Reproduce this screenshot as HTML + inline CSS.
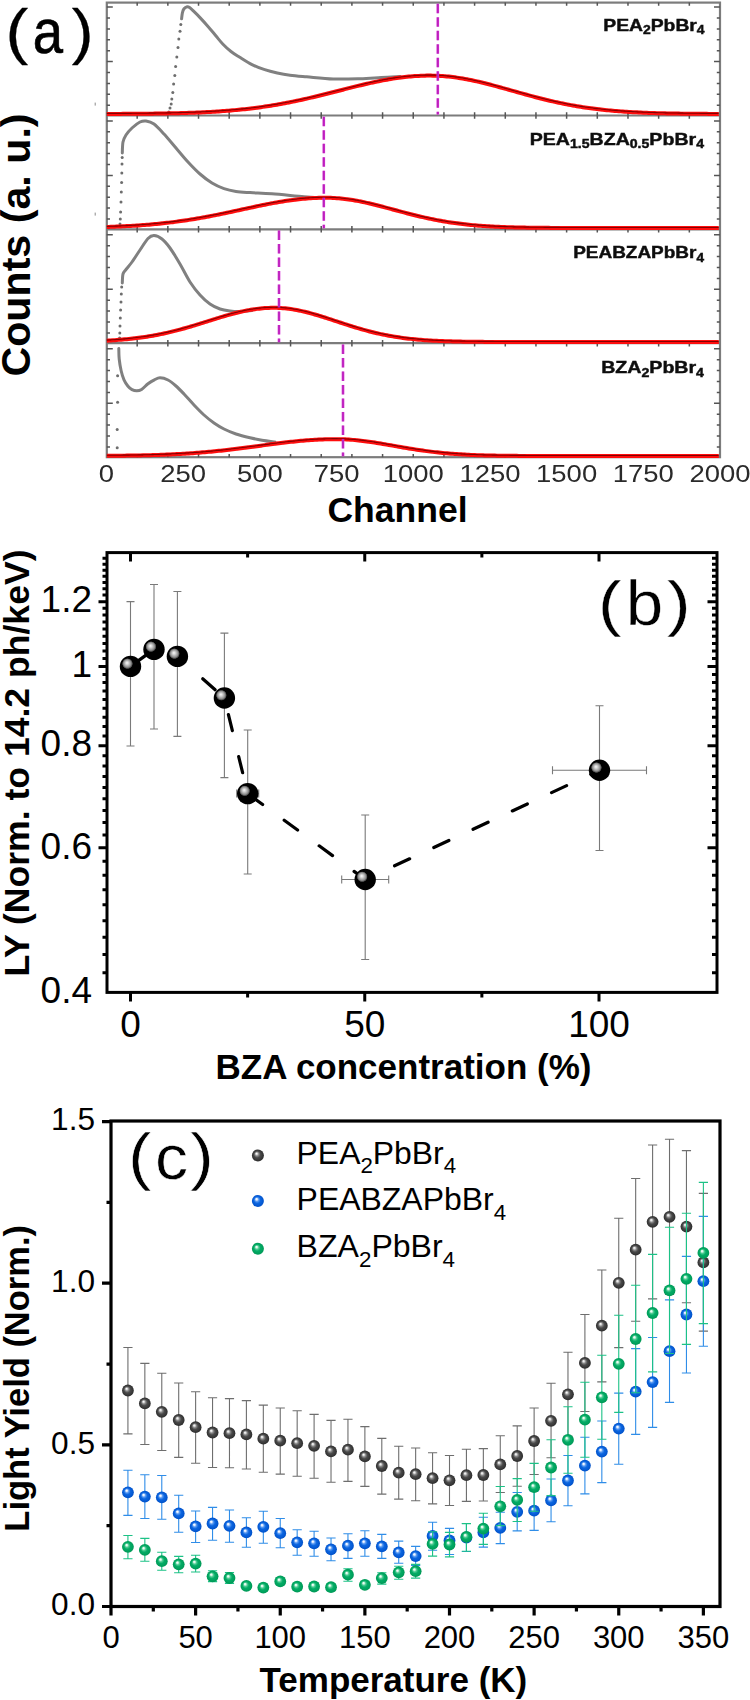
<!DOCTYPE html>
<html><head><meta charset="utf-8"><title>Figure</title>
<style>html,body{margin:0;padding:0;background:#fff;}body{width:750px;height:1700px;overflow:hidden;}svg{display:block;}</style>
</head><body>
<svg width="750" height="1700" viewBox="0 0 750 1700" font-family="'Liberation Sans', sans-serif">
<rect x="0" y="0" width="750" height="1700" fill="#fff"/>
<defs>
<radialGradient id="gH" cx="0.5" cy="0.5" r="0.5" fx="0.45" fy="0.42">
 <stop offset="0" stop-color="#fafafa"/><stop offset="0.3" stop-color="#d0d0d0"/><stop offset="0.7" stop-color="#8a8a8a"/><stop offset="0.9" stop-color="#3a3a3a"/><stop offset="1" stop-color="#000" stop-opacity="0"/></radialGradient>
<radialGradient id="gG" cx="0.5" cy="0.5" r="0.5" fx="0.37" fy="0.33">
 <stop offset="0" stop-color="#ffffff"/><stop offset="0.14" stop-color="#e0e0e0"/><stop offset="0.32" stop-color="#8a8a8a"/><stop offset="0.55" stop-color="#4a4a4a"/><stop offset="0.85" stop-color="#363636"/><stop offset="1" stop-color="#2c2c2c"/></radialGradient>
<radialGradient id="gB" cx="0.5" cy="0.5" r="0.5" fx="0.37" fy="0.33">
 <stop offset="0" stop-color="#ffffff"/><stop offset="0.14" stop-color="#e4eeff"/><stop offset="0.32" stop-color="#5a9af0"/><stop offset="0.55" stop-color="#0c66e0"/><stop offset="0.85" stop-color="#0458d2"/><stop offset="1" stop-color="#0050c6"/></radialGradient>
<radialGradient id="gN" cx="0.5" cy="0.5" r="0.5" fx="0.37" fy="0.33">
 <stop offset="0" stop-color="#ffffff"/><stop offset="0.14" stop-color="#dcf8ea"/><stop offset="0.32" stop-color="#52cc94"/><stop offset="0.55" stop-color="#04ac66"/><stop offset="0.85" stop-color="#00a05c"/><stop offset="1" stop-color="#009654"/></radialGradient>
<filter id="blurA" x="-2%" y="-2%" width="104%" height="104%"><feGaussianBlur stdDeviation="0.55"/></filter>
</defs>
<g id="panel-a" filter="url(#blurA)">
<path d="M181.60,18.80 C181.73,17.80 182.00,14.47 182.40,12.80 C182.80,11.13 183.20,9.80 184.00,8.80 C184.80,7.80 186.27,7.00 187.20,6.80 C188.13,6.60 188.53,6.87 189.60,7.60 C190.67,8.33 191.87,9.53 193.60,11.20 C195.33,12.87 197.60,15.07 200.00,17.60 C202.40,20.13 205.33,23.33 208.00,26.40 C210.67,29.47 213.50,33.03 216.00,36.00 C218.50,38.97 220.50,41.62 223.00,44.20 C225.50,46.78 228.28,49.37 231.00,51.50 C233.72,53.63 235.80,54.82 239.30,57.00 C242.80,59.18 247.77,62.48 252.00,64.60 C256.23,66.72 260.48,68.30 264.70,69.70 C268.92,71.10 273.08,72.08 277.30,73.00 C281.52,73.92 285.10,74.57 290.00,75.20 C294.90,75.83 299.48,76.17 306.70,76.80 C313.92,77.43 324.42,78.68 333.30,79.00 C342.18,79.32 352.00,78.95 360.00,78.70 C368.00,78.45 374.63,77.87 381.30,77.50 C387.97,77.13 396.88,76.67 400.00,76.50" fill="none" stroke="#808080" stroke-width="3.0" stroke-linecap="round" stroke-linejoin="round"/>
<path d="M122.30,153.00 C122.42,151.17 122.38,145.00 123.00,142.00 C123.62,139.00 124.50,137.33 126.00,135.00 C127.50,132.67 129.67,130.17 132.00,128.00 C134.33,125.83 137.67,123.17 140.00,122.00 C142.33,120.83 143.67,120.67 146.00,121.00 C148.33,121.33 151.00,121.83 154.00,124.00 C157.00,126.17 160.33,130.00 164.00,134.00 C167.67,138.00 172.00,143.33 176.00,148.00 C180.00,152.67 184.00,157.67 188.00,162.00 C192.00,166.33 196.00,170.50 200.00,174.00 C204.00,177.50 208.00,180.57 212.00,183.00 C216.00,185.43 220.00,187.20 224.00,188.60 C228.00,190.00 231.67,190.73 236.00,191.40 C240.33,192.07 244.00,192.20 250.00,192.60 C256.00,193.00 263.00,193.10 272.00,193.80 C281.00,194.50 295.67,196.10 304.00,196.80 C312.33,197.50 319.00,197.80 322.00,198.00" fill="none" stroke="#808080" stroke-width="3.0" stroke-linecap="round" stroke-linejoin="round"/>
<path d="M122.30,283.00 C122.42,281.50 122.38,276.25 123.00,274.00 C123.62,271.75 124.50,271.50 126.00,269.50 C127.50,267.50 129.67,265.25 132.00,262.00 C134.33,258.75 137.33,253.92 140.00,250.00 C142.67,246.08 145.67,240.92 148.00,238.50 C150.33,236.08 151.67,235.42 154.00,235.50 C156.33,235.58 159.33,236.92 162.00,239.00 C164.67,241.08 167.00,243.83 170.00,248.00 C173.00,252.17 176.67,258.33 180.00,264.00 C183.33,269.67 186.67,276.83 190.00,282.00 C193.33,287.17 196.67,291.33 200.00,295.00 C203.33,298.67 206.67,301.67 210.00,304.00 C213.33,306.33 216.67,307.83 220.00,309.00 C223.33,310.17 226.67,310.58 230.00,311.00 C233.33,311.42 236.33,311.58 240.00,311.50 C243.67,311.42 250.00,310.67 252.00,310.50" fill="none" stroke="#808080" stroke-width="3.0" stroke-linecap="round" stroke-linejoin="round"/>
<path d="M118.80,348.50 C118.87,350.25 118.80,355.25 119.20,359.00 C119.60,362.75 120.40,367.53 121.20,371.00 C122.00,374.47 122.87,377.27 124.00,379.80 C125.13,382.33 126.67,384.57 128.00,386.20 C129.33,387.83 130.53,388.83 132.00,389.60 C133.47,390.37 135.20,390.83 136.80,390.80 C138.40,390.77 139.73,390.57 141.60,389.40 C143.47,388.23 145.87,385.40 148.00,383.80 C150.13,382.20 152.40,380.80 154.40,379.80 C156.40,378.80 157.73,377.77 160.00,377.80 C162.27,377.83 165.33,378.63 168.00,380.00 C170.67,381.37 173.33,383.67 176.00,386.00 C178.67,388.33 181.00,390.83 184.00,394.00 C187.00,397.17 190.67,401.50 194.00,405.00 C197.33,408.50 200.67,412.00 204.00,415.00 C207.33,418.00 210.67,420.67 214.00,423.00 C217.33,425.33 220.33,427.17 224.00,429.00 C227.67,430.83 231.67,432.53 236.00,434.00 C240.33,435.47 245.67,436.77 250.00,437.80 C254.33,438.83 257.83,439.50 262.00,440.20 C266.17,440.90 272.83,441.70 275.00,442.00" fill="none" stroke="#808080" stroke-width="3.0" stroke-linecap="round" stroke-linejoin="round"/>
<circle cx="168.8" cy="112" r="1.5" fill="#6e6e6e"/>
<circle cx="170" cy="108" r="1.5" fill="#6e6e6e"/>
<circle cx="171.2" cy="104" r="1.5" fill="#6e6e6e"/>
<circle cx="171.8" cy="99" r="1.5" fill="#6e6e6e"/>
<circle cx="172.8" cy="92.6" r="1.5" fill="#6e6e6e"/>
<circle cx="173.6" cy="84" r="1.5" fill="#6e6e6e"/>
<circle cx="174.8" cy="75.6" r="1.5" fill="#6e6e6e"/>
<circle cx="175.6" cy="66.4" r="1.5" fill="#6e6e6e"/>
<circle cx="176.8" cy="57" r="1.5" fill="#6e6e6e"/>
<circle cx="178" cy="47.6" r="1.5" fill="#6e6e6e"/>
<circle cx="178.8" cy="39" r="1.5" fill="#6e6e6e"/>
<circle cx="180" cy="31.2" r="1.5" fill="#6e6e6e"/>
<circle cx="180.8" cy="24.4" r="1.5" fill="#6e6e6e"/>
<circle cx="120" cy="224" r="1.5" fill="#6e6e6e"/>
<circle cx="120.3" cy="219" r="1.5" fill="#6e6e6e"/>
<circle cx="120.6" cy="212" r="1.5" fill="#6e6e6e"/>
<circle cx="121" cy="202" r="1.5" fill="#6e6e6e"/>
<circle cx="121.3" cy="192" r="1.5" fill="#6e6e6e"/>
<circle cx="121.6" cy="182.4" r="1.5" fill="#6e6e6e"/>
<circle cx="121.8" cy="173" r="1.5" fill="#6e6e6e"/>
<circle cx="122" cy="164" r="1.5" fill="#6e6e6e"/>
<circle cx="122.2" cy="157.5" r="1.5" fill="#6e6e6e"/>
<circle cx="119.6" cy="338" r="1.5" fill="#6e6e6e"/>
<circle cx="119.8" cy="333" r="1.5" fill="#6e6e6e"/>
<circle cx="120" cy="326" r="1.5" fill="#6e6e6e"/>
<circle cx="120.3" cy="318" r="1.5" fill="#6e6e6e"/>
<circle cx="120.6" cy="310" r="1.5" fill="#6e6e6e"/>
<circle cx="121" cy="302" r="1.5" fill="#6e6e6e"/>
<circle cx="121.3" cy="294" r="1.5" fill="#6e6e6e"/>
<circle cx="121.7" cy="287" r="1.5" fill="#6e6e6e"/>
<circle cx="117.6" cy="375.8" r="1.5" fill="#6e6e6e"/>
<circle cx="117.6" cy="402.2" r="1.5" fill="#6e6e6e"/>
<circle cx="117.2" cy="429.4" r="1.5" fill="#6e6e6e"/>
<circle cx="117.2" cy="447.8" r="1.5" fill="#6e6e6e"/>
<rect x="106.8" y="2.6" width="613.2" height="454.59999999999997" fill="none" stroke="#7c7c7c" stroke-width="2.2"/>
<line x1="106.8" y1="115.5" x2="720.0" y2="115.5" stroke="#7c7c7c" stroke-width="2.2"/>
<line x1="106.8" y1="229.3" x2="720.0" y2="229.3" stroke="#7c7c7c" stroke-width="2.2"/>
<line x1="106.8" y1="343.2" x2="720.0" y2="343.2" stroke="#7c7c7c" stroke-width="2.2"/>
<path d="M137.18,2.60v3.2 M167.85,2.60v3.2 M198.53,2.60v3.2 M229.20,2.60v3.2 M259.88,2.60v3.2 M290.55,2.60v3.2 M321.23,2.60v3.2 M351.90,2.60v3.2 M382.58,2.60v3.2 M413.25,2.60v3.2 M443.93,2.60v3.2 M474.60,2.60v3.2 M505.28,2.60v3.2 M535.95,2.60v3.2 M566.62,2.60v3.2 M597.30,2.60v3.2 M627.98,2.60v3.2 M658.65,2.60v3.2 M689.33,2.60v3.2 M137.18,115.50v-3.2 M137.18,115.50v3.2 M167.85,115.50v-3.2 M167.85,115.50v3.2 M198.53,115.50v-3.2 M198.53,115.50v3.2 M229.20,115.50v-3.2 M229.20,115.50v3.2 M259.88,115.50v-3.2 M259.88,115.50v3.2 M290.55,115.50v-3.2 M290.55,115.50v3.2 M321.23,115.50v-3.2 M321.23,115.50v3.2 M351.90,115.50v-3.2 M351.90,115.50v3.2 M382.58,115.50v-3.2 M382.58,115.50v3.2 M413.25,115.50v-3.2 M413.25,115.50v3.2 M443.93,115.50v-3.2 M443.93,115.50v3.2 M474.60,115.50v-3.2 M474.60,115.50v3.2 M505.28,115.50v-3.2 M505.28,115.50v3.2 M535.95,115.50v-3.2 M535.95,115.50v3.2 M566.62,115.50v-3.2 M566.62,115.50v3.2 M597.30,115.50v-3.2 M597.30,115.50v3.2 M627.98,115.50v-3.2 M627.98,115.50v3.2 M658.65,115.50v-3.2 M658.65,115.50v3.2 M689.33,115.50v-3.2 M689.33,115.50v3.2 M137.18,229.30v-3.2 M137.18,229.30v3.2 M167.85,229.30v-3.2 M167.85,229.30v3.2 M198.53,229.30v-3.2 M198.53,229.30v3.2 M229.20,229.30v-3.2 M229.20,229.30v3.2 M259.88,229.30v-3.2 M259.88,229.30v3.2 M290.55,229.30v-3.2 M290.55,229.30v3.2 M321.23,229.30v-3.2 M321.23,229.30v3.2 M351.90,229.30v-3.2 M351.90,229.30v3.2 M382.58,229.30v-3.2 M382.58,229.30v3.2 M413.25,229.30v-3.2 M413.25,229.30v3.2 M443.93,229.30v-3.2 M443.93,229.30v3.2 M474.60,229.30v-3.2 M474.60,229.30v3.2 M505.28,229.30v-3.2 M505.28,229.30v3.2 M535.95,229.30v-3.2 M535.95,229.30v3.2 M566.62,229.30v-3.2 M566.62,229.30v3.2 M597.30,229.30v-3.2 M597.30,229.30v3.2 M627.98,229.30v-3.2 M627.98,229.30v3.2 M658.65,229.30v-3.2 M658.65,229.30v3.2 M689.33,229.30v-3.2 M689.33,229.30v3.2 M137.18,343.20v-3.2 M137.18,343.20v3.2 M167.85,343.20v-3.2 M167.85,343.20v3.2 M198.53,343.20v-3.2 M198.53,343.20v3.2 M229.20,343.20v-3.2 M229.20,343.20v3.2 M259.88,343.20v-3.2 M259.88,343.20v3.2 M290.55,343.20v-3.2 M290.55,343.20v3.2 M321.23,343.20v-3.2 M321.23,343.20v3.2 M351.90,343.20v-3.2 M351.90,343.20v3.2 M382.58,343.20v-3.2 M382.58,343.20v3.2 M413.25,343.20v-3.2 M413.25,343.20v3.2 M443.93,343.20v-3.2 M443.93,343.20v3.2 M474.60,343.20v-3.2 M474.60,343.20v3.2 M505.28,343.20v-3.2 M505.28,343.20v3.2 M535.95,343.20v-3.2 M535.95,343.20v3.2 M566.62,343.20v-3.2 M566.62,343.20v3.2 M597.30,343.20v-3.2 M597.30,343.20v3.2 M627.98,343.20v-3.2 M627.98,343.20v3.2 M658.65,343.20v-3.2 M658.65,343.20v3.2 M689.33,343.20v-3.2 M689.33,343.20v3.2 M137.18,457.20v-3.2 M167.85,457.20v-3.2 M198.53,457.20v-3.2 M229.20,457.20v-3.2 M259.88,457.20v-3.2 M290.55,457.20v-3.2 M321.23,457.20v-3.2 M351.90,457.20v-3.2 M382.58,457.20v-3.2 M413.25,457.20v-3.2 M443.93,457.20v-3.2 M474.60,457.20v-3.2 M505.28,457.20v-3.2 M535.95,457.20v-3.2 M566.62,457.20v-3.2 M597.30,457.20v-3.2 M627.98,457.20v-3.2 M658.65,457.20v-3.2 M689.33,457.20v-3.2 M106.80,105.20h3.2 M720.00,105.20h-3.2 M106.80,94.30h3.2 M720.00,94.30h-3.2 M106.80,83.40h3.2 M720.00,83.40h-3.2 M106.80,72.50h3.2 M720.00,72.50h-3.2 M106.80,61.60h6 M720.00,61.60h-6 M106.80,50.70h3.2 M720.00,50.70h-3.2 M106.80,39.80h3.2 M720.00,39.80h-3.2 M106.80,28.90h3.2 M720.00,28.90h-3.2 M106.80,18.00h3.2 M720.00,18.00h-3.2 M106.80,7.10h6 M720.00,7.10h-6 M106.80,219.00h3.2 M720.00,219.00h-3.2 M106.80,208.10h3.2 M720.00,208.10h-3.2 M106.80,197.20h3.2 M720.00,197.20h-3.2 M106.80,186.30h3.2 M720.00,186.30h-3.2 M106.80,175.40h6 M720.00,175.40h-6 M106.80,164.50h3.2 M720.00,164.50h-3.2 M106.80,153.60h3.2 M720.00,153.60h-3.2 M106.80,142.70h3.2 M720.00,142.70h-3.2 M106.80,131.80h3.2 M720.00,131.80h-3.2 M106.80,120.90h6 M720.00,120.90h-6 M106.80,332.90h3.2 M720.00,332.90h-3.2 M106.80,322.00h3.2 M720.00,322.00h-3.2 M106.80,311.10h3.2 M720.00,311.10h-3.2 M106.80,300.20h3.2 M720.00,300.20h-3.2 M106.80,289.30h6 M720.00,289.30h-6 M106.80,278.40h3.2 M720.00,278.40h-3.2 M106.80,267.50h3.2 M720.00,267.50h-3.2 M106.80,256.60h3.2 M720.00,256.60h-3.2 M106.80,245.70h3.2 M720.00,245.70h-3.2 M106.80,234.80h6 M720.00,234.80h-6 M106.80,446.90h3.2 M720.00,446.90h-3.2 M106.80,436.00h3.2 M720.00,436.00h-3.2 M106.80,425.10h3.2 M720.00,425.10h-3.2 M106.80,414.20h3.2 M720.00,414.20h-3.2 M106.80,403.30h6 M720.00,403.30h-6 M106.80,392.40h3.2 M720.00,392.40h-3.2 M106.80,381.50h3.2 M720.00,381.50h-3.2 M106.80,370.60h3.2 M720.00,370.60h-3.2 M106.80,359.70h3.2 M720.00,359.70h-3.2 M106.80,348.80h6 M720.00,348.80h-6" stroke="#555" stroke-width="1.5" fill="none"/>
<path d="M106.8,113.93 L108.8,113.92 L110.8,113.92 L112.8,113.91 L114.8,113.90 L116.8,113.90 L118.8,113.89 L120.8,113.88 L122.8,113.87 L124.8,113.86 L126.8,113.85 L128.8,113.84 L130.8,113.83 L132.8,113.81 L134.8,113.80 L136.8,113.78 L138.8,113.77 L140.8,113.75 L142.8,113.73 L144.8,113.72 L146.8,113.70 L148.8,113.67 L150.8,113.65 L152.8,113.63 L154.8,113.60 L156.8,113.57 L158.8,113.54 L160.8,113.51 L162.8,113.48 L164.8,113.45 L166.8,113.41 L168.8,113.37 L170.8,113.33 L172.8,113.29 L174.8,113.24 L176.8,113.19 L178.8,113.14 L180.8,113.09 L182.8,113.03 L184.8,112.98 L186.8,112.91 L188.8,112.85 L190.8,112.78 L192.8,112.71 L194.8,112.63 L196.8,112.55 L198.8,112.47 L200.8,112.38 L202.8,112.29 L204.8,112.19 L206.8,112.09 L208.8,111.99 L210.8,111.88 L212.8,111.76 L214.8,111.64 L216.8,111.52 L218.8,111.39 L220.8,111.25 L222.8,111.11 L224.8,110.96 L226.8,110.81 L228.8,110.65 L230.8,110.49 L232.8,110.31 L234.8,110.13 L236.8,109.95 L238.8,109.76 L240.8,109.56 L242.8,109.35 L244.8,109.14 L246.8,108.92 L248.8,108.69 L250.8,108.45 L252.8,108.21 L254.8,107.96 L256.8,107.70 L258.8,107.43 L260.8,107.15 L262.8,106.87 L264.8,106.58 L266.8,106.28 L268.8,105.97 L270.8,105.66 L272.8,105.33 L274.8,105.00 L276.8,104.66 L278.8,104.31 L280.8,103.95 L282.8,103.58 L284.8,103.21 L286.8,102.83 L288.8,102.44 L290.8,102.04 L292.8,101.64 L294.8,101.22 L296.8,100.80 L298.8,100.38 L300.8,99.94 L302.8,99.50 L304.8,99.05 L306.8,98.60 L308.8,98.14 L310.8,97.67 L312.8,97.20 L314.8,96.72 L316.8,96.24 L318.8,95.75 L320.8,95.26 L322.8,94.76 L324.8,94.27 L326.8,93.76 L328.8,93.26 L330.8,92.75 L332.8,92.24 L334.8,91.73 L336.8,91.22 L338.8,90.71 L340.8,90.20 L342.8,89.69 L344.8,89.18 L346.8,88.67 L348.8,88.16 L350.8,87.66 L352.8,87.16 L354.8,86.66 L356.8,86.16 L358.8,85.68 L360.8,85.19 L362.8,84.72 L364.8,84.25 L366.8,83.78 L368.8,83.33 L370.8,82.88 L372.8,82.44 L374.8,82.01 L376.8,81.59 L378.8,81.18 L380.8,80.78 L382.8,80.39 L384.8,80.02 L386.8,79.66 L388.8,79.31 L390.8,78.97 L392.8,78.65 L394.8,78.34 L396.8,78.04 L398.8,77.76 L400.8,77.50 L402.8,77.25 L404.8,77.02 L406.8,76.81 L408.8,76.61 L410.8,76.43 L412.8,76.26 L414.8,76.12 L416.8,75.99 L418.8,75.88 L420.8,75.79 L422.8,75.71 L424.8,75.66 L426.8,75.62 L428.8,75.60 L430.8,75.60 L432.8,75.63 L434.8,75.67 L436.8,75.74 L438.8,75.83 L440.8,75.94 L442.8,76.07 L444.8,76.23 L446.8,76.41 L448.8,76.61 L450.8,76.83 L452.8,77.07 L454.8,77.33 L456.8,77.61 L458.8,77.91 L460.8,78.22 L462.8,78.56 L464.8,78.91 L466.8,79.28 L468.8,79.67 L470.8,80.07 L472.8,80.49 L474.8,80.92 L476.8,81.36 L478.8,81.82 L480.8,82.29 L482.8,82.78 L484.8,83.27 L486.8,83.77 L488.8,84.28 L490.8,84.80 L492.8,85.33 L494.8,85.87 L496.8,86.41 L498.8,86.96 L500.8,87.51 L502.8,88.06 L504.8,88.62 L506.8,89.19 L508.8,89.75 L510.8,90.31 L512.8,90.88 L514.8,91.44 L516.8,92.01 L518.8,92.57 L520.8,93.13 L522.8,93.69 L524.8,94.24 L526.8,94.79 L528.8,95.34 L530.8,95.88 L532.8,96.42 L534.8,96.95 L536.8,97.47 L538.8,97.99 L540.8,98.50 L542.8,99.00 L544.8,99.50 L546.8,99.99 L548.8,100.47 L550.8,100.94 L552.8,101.40 L554.8,101.85 L556.8,102.29 L558.8,102.72 L560.8,103.15 L562.8,103.56 L564.8,103.97 L566.8,104.36 L568.8,104.74 L570.8,105.12 L572.8,105.48 L574.8,105.84 L576.8,106.18 L578.8,106.51 L580.8,106.84 L582.8,107.15 L584.8,107.45 L586.8,107.75 L588.8,108.03 L590.8,108.31 L592.8,108.57 L594.8,108.83 L596.8,109.08 L598.8,109.31 L600.8,109.54 L602.8,109.76 L604.8,109.97 L606.8,110.18 L608.8,110.37 L610.8,110.56 L612.8,110.74 L614.8,110.91 L616.8,111.08 L618.8,111.23 L620.8,111.38 L622.8,111.53 L624.8,111.67 L626.8,111.80 L628.8,111.92 L630.8,112.04 L632.8,112.15 L634.8,112.26 L636.8,112.36 L638.8,112.46 L640.8,112.55 L642.8,112.64 L644.8,112.72 L646.8,112.80 L648.8,112.88 L650.8,112.95 L652.8,113.01 L654.8,113.08 L656.8,113.14 L658.8,113.19 L660.8,113.25 L662.8,113.30 L664.8,113.34 L666.8,113.39 L668.8,113.43 L670.8,113.47 L672.8,113.50 L674.8,113.54 L676.8,113.57 L678.8,113.60 L680.8,113.63 L682.8,113.66 L684.8,113.68 L686.8,113.70 L688.8,113.73 L690.8,113.75 L692.8,113.76 L694.8,113.78 L696.8,113.80 L698.8,113.81 L700.8,113.83 L702.8,113.84 L704.8,113.85 L706.8,113.86 L708.8,113.88 L710.8,113.89 L712.8,113.89 L714.8,113.90 L716.8,113.91 L718.8,113.92" fill="none" stroke="#ff0a0a" stroke-width="4.0" stroke-linejoin="round"/>
<path d="M106.8,113.93 L108.8,113.92 L110.8,113.92 L112.8,113.91 L114.8,113.90 L116.8,113.90 L118.8,113.89 L120.8,113.88 L122.8,113.87 L124.8,113.86 L126.8,113.85 L128.8,113.84 L130.8,113.83 L132.8,113.81 L134.8,113.80 L136.8,113.78 L138.8,113.77 L140.8,113.75 L142.8,113.73 L144.8,113.72 L146.8,113.70 L148.8,113.67 L150.8,113.65 L152.8,113.63 L154.8,113.60 L156.8,113.57 L158.8,113.54 L160.8,113.51 L162.8,113.48 L164.8,113.45 L166.8,113.41 L168.8,113.37 L170.8,113.33 L172.8,113.29 L174.8,113.24 L176.8,113.19 L178.8,113.14 L180.8,113.09 L182.8,113.03 L184.8,112.98 L186.8,112.91 L188.8,112.85 L190.8,112.78 L192.8,112.71 L194.8,112.63 L196.8,112.55 L198.8,112.47 L200.8,112.38 L202.8,112.29 L204.8,112.19 L206.8,112.09 L208.8,111.99 L210.8,111.88 L212.8,111.76 L214.8,111.64 L216.8,111.52 L218.8,111.39 L220.8,111.25 L222.8,111.11 L224.8,110.96 L226.8,110.81 L228.8,110.65 L230.8,110.49 L232.8,110.31 L234.8,110.13 L236.8,109.95 L238.8,109.76 L240.8,109.56 L242.8,109.35 L244.8,109.14 L246.8,108.92 L248.8,108.69 L250.8,108.45 L252.8,108.21 L254.8,107.96 L256.8,107.70 L258.8,107.43 L260.8,107.15 L262.8,106.87 L264.8,106.58 L266.8,106.28 L268.8,105.97 L270.8,105.66 L272.8,105.33 L274.8,105.00 L276.8,104.66 L278.8,104.31 L280.8,103.95 L282.8,103.58 L284.8,103.21 L286.8,102.83 L288.8,102.44 L290.8,102.04 L292.8,101.64 L294.8,101.22 L296.8,100.80 L298.8,100.38 L300.8,99.94 L302.8,99.50 L304.8,99.05 L306.8,98.60 L308.8,98.14 L310.8,97.67 L312.8,97.20 L314.8,96.72 L316.8,96.24 L318.8,95.75 L320.8,95.26 L322.8,94.76 L324.8,94.27 L326.8,93.76 L328.8,93.26 L330.8,92.75 L332.8,92.24 L334.8,91.73 L336.8,91.22 L338.8,90.71 L340.8,90.20 L342.8,89.69 L344.8,89.18 L346.8,88.67 L348.8,88.16 L350.8,87.66 L352.8,87.16 L354.8,86.66 L356.8,86.16 L358.8,85.68 L360.8,85.19 L362.8,84.72 L364.8,84.25 L366.8,83.78 L368.8,83.33 L370.8,82.88 L372.8,82.44 L374.8,82.01 L376.8,81.59 L378.8,81.18 L380.8,80.78 L382.8,80.39 L384.8,80.02 L386.8,79.66 L388.8,79.31 L390.8,78.97 L392.8,78.65 L394.8,78.34 L396.8,78.04 L398.8,77.76 L400.8,77.50 L402.8,77.25 L404.8,77.02 L406.8,76.81 L408.8,76.61 L410.8,76.43 L412.8,76.26 L414.8,76.12 L416.8,75.99 L418.8,75.88 L420.8,75.79 L422.8,75.71 L424.8,75.66 L426.8,75.62 L428.8,75.60 L430.8,75.60 L432.8,75.63 L434.8,75.67 L436.8,75.74 L438.8,75.83 L440.8,75.94 L442.8,76.07 L444.8,76.23 L446.8,76.41 L448.8,76.61 L450.8,76.83 L452.8,77.07 L454.8,77.33 L456.8,77.61 L458.8,77.91 L460.8,78.22 L462.8,78.56 L464.8,78.91 L466.8,79.28 L468.8,79.67 L470.8,80.07 L472.8,80.49 L474.8,80.92 L476.8,81.36 L478.8,81.82 L480.8,82.29 L482.8,82.78 L484.8,83.27 L486.8,83.77 L488.8,84.28 L490.8,84.80 L492.8,85.33 L494.8,85.87 L496.8,86.41 L498.8,86.96 L500.8,87.51 L502.8,88.06 L504.8,88.62 L506.8,89.19 L508.8,89.75 L510.8,90.31 L512.8,90.88 L514.8,91.44 L516.8,92.01 L518.8,92.57 L520.8,93.13 L522.8,93.69 L524.8,94.24 L526.8,94.79 L528.8,95.34 L530.8,95.88 L532.8,96.42 L534.8,96.95 L536.8,97.47 L538.8,97.99 L540.8,98.50 L542.8,99.00 L544.8,99.50 L546.8,99.99 L548.8,100.47 L550.8,100.94 L552.8,101.40 L554.8,101.85 L556.8,102.29 L558.8,102.72 L560.8,103.15 L562.8,103.56 L564.8,103.97 L566.8,104.36 L568.8,104.74 L570.8,105.12 L572.8,105.48 L574.8,105.84 L576.8,106.18 L578.8,106.51 L580.8,106.84 L582.8,107.15 L584.8,107.45 L586.8,107.75 L588.8,108.03 L590.8,108.31 L592.8,108.57 L594.8,108.83 L596.8,109.08 L598.8,109.31 L600.8,109.54 L602.8,109.76 L604.8,109.97 L606.8,110.18 L608.8,110.37 L610.8,110.56 L612.8,110.74 L614.8,110.91 L616.8,111.08 L618.8,111.23 L620.8,111.38 L622.8,111.53 L624.8,111.67 L626.8,111.80 L628.8,111.92 L630.8,112.04 L632.8,112.15 L634.8,112.26 L636.8,112.36 L638.8,112.46 L640.8,112.55 L642.8,112.64 L644.8,112.72 L646.8,112.80 L648.8,112.88 L650.8,112.95 L652.8,113.01 L654.8,113.08 L656.8,113.14 L658.8,113.19 L660.8,113.25 L662.8,113.30 L664.8,113.34 L666.8,113.39 L668.8,113.43 L670.8,113.47 L672.8,113.50 L674.8,113.54 L676.8,113.57 L678.8,113.60 L680.8,113.63 L682.8,113.66 L684.8,113.68 L686.8,113.70 L688.8,113.73 L690.8,113.75 L692.8,113.76 L694.8,113.78 L696.8,113.80 L698.8,113.81 L700.8,113.83 L702.8,113.84 L704.8,113.85 L706.8,113.86 L708.8,113.88 L710.8,113.89 L712.8,113.89 L714.8,113.90 L716.8,113.91 L718.8,113.92" fill="none" stroke="#300000" stroke-opacity="0.6" stroke-width="1.1" transform="translate(0,-0.5)"/>
<path d="M106.8,226.95 L108.8,226.89 L110.8,226.82 L112.8,226.74 L114.8,226.67 L116.8,226.59 L118.8,226.50 L120.8,226.41 L122.8,226.32 L124.8,226.22 L126.8,226.12 L128.8,226.01 L130.8,225.90 L132.8,225.78 L134.8,225.66 L136.8,225.53 L138.8,225.39 L140.8,225.25 L142.8,225.11 L144.8,224.96 L146.8,224.80 L148.8,224.64 L150.8,224.47 L152.8,224.29 L154.8,224.11 L156.8,223.91 L158.8,223.72 L160.8,223.51 L162.8,223.30 L164.8,223.08 L166.8,222.86 L168.8,222.62 L170.8,222.38 L172.8,222.14 L174.8,221.88 L176.8,221.62 L178.8,221.35 L180.8,221.07 L182.8,220.78 L184.8,220.49 L186.8,220.19 L188.8,219.88 L190.8,219.57 L192.8,219.24 L194.8,218.91 L196.8,218.57 L198.8,218.23 L200.8,217.88 L202.8,217.52 L204.8,217.16 L206.8,216.78 L208.8,216.41 L210.8,216.02 L212.8,215.63 L214.8,215.24 L216.8,214.84 L218.8,214.43 L220.8,214.03 L222.8,213.61 L224.8,213.19 L226.8,212.77 L228.8,212.35 L230.8,211.92 L232.8,211.49 L234.8,211.06 L236.8,210.63 L238.8,210.19 L240.8,209.76 L242.8,209.32 L244.8,208.89 L246.8,208.46 L248.8,208.02 L250.8,207.59 L252.8,207.17 L254.8,206.74 L256.8,206.32 L258.8,205.90 L260.8,205.49 L262.8,205.08 L264.8,204.68 L266.8,204.29 L268.8,203.90 L270.8,203.52 L272.8,203.14 L274.8,202.78 L276.8,202.42 L278.8,202.08 L280.8,201.74 L282.8,201.41 L284.8,201.10 L286.8,200.80 L288.8,200.51 L290.8,200.23 L292.8,199.96 L294.8,199.71 L296.8,199.47 L298.8,199.25 L300.8,199.04 L302.8,198.84 L304.8,198.66 L306.8,198.50 L308.8,198.35 L310.8,198.22 L312.8,198.10 L314.8,198.00 L316.8,197.92 L318.8,197.85 L320.8,197.80 L322.8,197.77 L324.8,197.75 L326.8,197.75 L328.8,197.78 L330.8,197.84 L332.8,197.92 L334.8,198.02 L336.8,198.15 L338.8,198.31 L340.8,198.49 L342.8,198.70 L344.8,198.93 L346.8,199.18 L348.8,199.46 L350.8,199.76 L352.8,200.07 L354.8,200.41 L356.8,200.77 L358.8,201.15 L360.8,201.55 L362.8,201.96 L364.8,202.39 L366.8,202.83 L368.8,203.29 L370.8,203.76 L372.8,204.24 L374.8,204.73 L376.8,205.23 L378.8,205.74 L380.8,206.26 L382.8,206.79 L384.8,207.32 L386.8,207.85 L388.8,208.39 L390.8,208.93 L392.8,209.47 L394.8,210.01 L396.8,210.55 L398.8,211.09 L400.8,211.63 L402.8,212.16 L404.8,212.69 L406.8,213.21 L408.8,213.73 L410.8,214.25 L412.8,214.75 L414.8,215.25 L416.8,215.74 L418.8,216.22 L420.8,216.69 L422.8,217.16 L424.8,217.61 L426.8,218.05 L428.8,218.49 L430.8,218.91 L432.8,219.32 L434.8,219.72 L436.8,220.10 L438.8,220.48 L440.8,220.84 L442.8,221.20 L444.8,221.54 L446.8,221.87 L448.8,222.18 L450.8,222.49 L452.8,222.78 L454.8,223.07 L456.8,223.34 L458.8,223.60 L460.8,223.85 L462.8,224.09 L464.8,224.32 L466.8,224.53 L468.8,224.74 L470.8,224.94 L472.8,225.13 L474.8,225.31 L476.8,225.48 L478.8,225.64 L480.8,225.79 L482.8,225.94 L484.8,226.07 L486.8,226.20 L488.8,226.33 L490.8,226.44 L492.8,226.55 L494.8,226.65 L496.8,226.75 L498.8,226.84 L500.8,226.92 L502.8,227.00 L504.8,227.08 L506.8,227.15 L508.8,227.21 L510.8,227.27 L512.8,227.33 L514.8,227.38 L516.8,227.43 L518.8,227.48 L520.8,227.52 L522.8,227.56 L524.8,227.60 L526.8,227.63 L528.8,227.66 L530.8,227.69 L532.8,227.72 L534.8,227.74 L536.8,227.76 L538.8,227.78 L540.8,227.80 L542.8,227.82 L544.8,227.84 L546.8,227.85 L548.8,227.87 L550.8,227.88 L552.8,227.89 L554.8,227.90 L556.8,227.91 L558.8,227.92 L560.8,227.93 L562.8,227.93 L564.8,227.94 L566.8,227.95 L568.8,227.95 L570.8,227.96 L572.8,227.96 L574.8,227.96 L576.8,227.97 L578.8,227.97 L580.8,227.97 L582.8,227.98 L584.8,227.98 L586.8,227.98 L588.8,227.98 L590.8,227.99 L592.8,227.99 L594.8,227.99 L596.8,227.99 L598.8,227.99 L600.8,227.99 L602.8,227.99 L604.8,227.99 L606.8,227.99 L608.8,228.00 L610.8,228.00 L612.8,228.00 L614.8,228.00 L616.8,228.00 L618.8,228.00 L620.8,228.00 L622.8,228.00 L624.8,228.00 L626.8,228.00 L628.8,228.00 L630.8,228.00 L632.8,228.00 L634.8,228.00 L636.8,228.00 L638.8,228.00 L640.8,228.00 L642.8,228.00 L644.8,228.00 L646.8,228.00 L648.8,228.00 L650.8,228.00 L652.8,228.00 L654.8,228.00 L656.8,228.00 L658.8,228.00 L660.8,228.00 L662.8,228.00 L664.8,228.00 L666.8,228.00 L668.8,228.00 L670.8,228.00 L672.8,228.00 L674.8,228.00 L676.8,228.00 L678.8,228.00 L680.8,228.00 L682.8,228.00 L684.8,228.00 L686.8,228.00 L688.8,228.00 L690.8,228.00 L692.8,228.00 L694.8,228.00 L696.8,228.00 L698.8,228.00 L700.8,228.00 L702.8,228.00 L704.8,228.00 L706.8,228.00 L708.8,228.00 L710.8,228.00 L712.8,228.00 L714.8,228.00 L716.8,228.00 L718.8,228.00" fill="none" stroke="#ff0a0a" stroke-width="4.0" stroke-linejoin="round"/>
<path d="M106.8,226.95 L108.8,226.89 L110.8,226.82 L112.8,226.74 L114.8,226.67 L116.8,226.59 L118.8,226.50 L120.8,226.41 L122.8,226.32 L124.8,226.22 L126.8,226.12 L128.8,226.01 L130.8,225.90 L132.8,225.78 L134.8,225.66 L136.8,225.53 L138.8,225.39 L140.8,225.25 L142.8,225.11 L144.8,224.96 L146.8,224.80 L148.8,224.64 L150.8,224.47 L152.8,224.29 L154.8,224.11 L156.8,223.91 L158.8,223.72 L160.8,223.51 L162.8,223.30 L164.8,223.08 L166.8,222.86 L168.8,222.62 L170.8,222.38 L172.8,222.14 L174.8,221.88 L176.8,221.62 L178.8,221.35 L180.8,221.07 L182.8,220.78 L184.8,220.49 L186.8,220.19 L188.8,219.88 L190.8,219.57 L192.8,219.24 L194.8,218.91 L196.8,218.57 L198.8,218.23 L200.8,217.88 L202.8,217.52 L204.8,217.16 L206.8,216.78 L208.8,216.41 L210.8,216.02 L212.8,215.63 L214.8,215.24 L216.8,214.84 L218.8,214.43 L220.8,214.03 L222.8,213.61 L224.8,213.19 L226.8,212.77 L228.8,212.35 L230.8,211.92 L232.8,211.49 L234.8,211.06 L236.8,210.63 L238.8,210.19 L240.8,209.76 L242.8,209.32 L244.8,208.89 L246.8,208.46 L248.8,208.02 L250.8,207.59 L252.8,207.17 L254.8,206.74 L256.8,206.32 L258.8,205.90 L260.8,205.49 L262.8,205.08 L264.8,204.68 L266.8,204.29 L268.8,203.90 L270.8,203.52 L272.8,203.14 L274.8,202.78 L276.8,202.42 L278.8,202.08 L280.8,201.74 L282.8,201.41 L284.8,201.10 L286.8,200.80 L288.8,200.51 L290.8,200.23 L292.8,199.96 L294.8,199.71 L296.8,199.47 L298.8,199.25 L300.8,199.04 L302.8,198.84 L304.8,198.66 L306.8,198.50 L308.8,198.35 L310.8,198.22 L312.8,198.10 L314.8,198.00 L316.8,197.92 L318.8,197.85 L320.8,197.80 L322.8,197.77 L324.8,197.75 L326.8,197.75 L328.8,197.78 L330.8,197.84 L332.8,197.92 L334.8,198.02 L336.8,198.15 L338.8,198.31 L340.8,198.49 L342.8,198.70 L344.8,198.93 L346.8,199.18 L348.8,199.46 L350.8,199.76 L352.8,200.07 L354.8,200.41 L356.8,200.77 L358.8,201.15 L360.8,201.55 L362.8,201.96 L364.8,202.39 L366.8,202.83 L368.8,203.29 L370.8,203.76 L372.8,204.24 L374.8,204.73 L376.8,205.23 L378.8,205.74 L380.8,206.26 L382.8,206.79 L384.8,207.32 L386.8,207.85 L388.8,208.39 L390.8,208.93 L392.8,209.47 L394.8,210.01 L396.8,210.55 L398.8,211.09 L400.8,211.63 L402.8,212.16 L404.8,212.69 L406.8,213.21 L408.8,213.73 L410.8,214.25 L412.8,214.75 L414.8,215.25 L416.8,215.74 L418.8,216.22 L420.8,216.69 L422.8,217.16 L424.8,217.61 L426.8,218.05 L428.8,218.49 L430.8,218.91 L432.8,219.32 L434.8,219.72 L436.8,220.10 L438.8,220.48 L440.8,220.84 L442.8,221.20 L444.8,221.54 L446.8,221.87 L448.8,222.18 L450.8,222.49 L452.8,222.78 L454.8,223.07 L456.8,223.34 L458.8,223.60 L460.8,223.85 L462.8,224.09 L464.8,224.32 L466.8,224.53 L468.8,224.74 L470.8,224.94 L472.8,225.13 L474.8,225.31 L476.8,225.48 L478.8,225.64 L480.8,225.79 L482.8,225.94 L484.8,226.07 L486.8,226.20 L488.8,226.33 L490.8,226.44 L492.8,226.55 L494.8,226.65 L496.8,226.75 L498.8,226.84 L500.8,226.92 L502.8,227.00 L504.8,227.08 L506.8,227.15 L508.8,227.21 L510.8,227.27 L512.8,227.33 L514.8,227.38 L516.8,227.43 L518.8,227.48 L520.8,227.52 L522.8,227.56 L524.8,227.60 L526.8,227.63 L528.8,227.66 L530.8,227.69 L532.8,227.72 L534.8,227.74 L536.8,227.76 L538.8,227.78 L540.8,227.80 L542.8,227.82 L544.8,227.84 L546.8,227.85 L548.8,227.87 L550.8,227.88 L552.8,227.89 L554.8,227.90 L556.8,227.91 L558.8,227.92 L560.8,227.93 L562.8,227.93 L564.8,227.94 L566.8,227.95 L568.8,227.95 L570.8,227.96 L572.8,227.96 L574.8,227.96 L576.8,227.97 L578.8,227.97 L580.8,227.97 L582.8,227.98 L584.8,227.98 L586.8,227.98 L588.8,227.98 L590.8,227.99 L592.8,227.99 L594.8,227.99 L596.8,227.99 L598.8,227.99 L600.8,227.99 L602.8,227.99 L604.8,227.99 L606.8,227.99 L608.8,228.00 L610.8,228.00 L612.8,228.00 L614.8,228.00 L616.8,228.00 L618.8,228.00 L620.8,228.00 L622.8,228.00 L624.8,228.00 L626.8,228.00 L628.8,228.00 L630.8,228.00 L632.8,228.00 L634.8,228.00 L636.8,228.00 L638.8,228.00 L640.8,228.00 L642.8,228.00 L644.8,228.00 L646.8,228.00 L648.8,228.00 L650.8,228.00 L652.8,228.00 L654.8,228.00 L656.8,228.00 L658.8,228.00 L660.8,228.00 L662.8,228.00 L664.8,228.00 L666.8,228.00 L668.8,228.00 L670.8,228.00 L672.8,228.00 L674.8,228.00 L676.8,228.00 L678.8,228.00 L680.8,228.00 L682.8,228.00 L684.8,228.00 L686.8,228.00 L688.8,228.00 L690.8,228.00 L692.8,228.00 L694.8,228.00 L696.8,228.00 L698.8,228.00 L700.8,228.00 L702.8,228.00 L704.8,228.00 L706.8,228.00 L708.8,228.00 L710.8,228.00 L712.8,228.00 L714.8,228.00 L716.8,228.00 L718.8,228.00" fill="none" stroke="#300000" stroke-opacity="0.6" stroke-width="1.1" transform="translate(0,-0.5)"/>
<path d="M106.8,340.63 L108.8,340.52 L110.8,340.40 L112.8,340.28 L114.8,340.14 L116.8,340.00 L118.8,339.85 L120.8,339.69 L122.8,339.53 L124.8,339.35 L126.8,339.16 L128.8,338.96 L130.8,338.76 L132.8,338.54 L134.8,338.31 L136.8,338.06 L138.8,337.81 L140.8,337.54 L142.8,337.26 L144.8,336.97 L146.8,336.66 L148.8,336.34 L150.8,336.01 L152.8,335.66 L154.8,335.30 L156.8,334.92 L158.8,334.53 L160.8,334.13 L162.8,333.71 L164.8,333.28 L166.8,332.84 L168.8,332.38 L170.8,331.91 L172.8,331.42 L174.8,330.92 L176.8,330.41 L178.8,329.88 L180.8,329.35 L182.8,328.80 L184.8,328.24 L186.8,327.67 L188.8,327.09 L190.8,326.50 L192.8,325.90 L194.8,325.30 L196.8,324.69 L198.8,324.07 L200.8,323.45 L202.8,322.82 L204.8,322.19 L206.8,321.56 L208.8,320.93 L210.8,320.30 L212.8,319.67 L214.8,319.05 L216.8,318.43 L218.8,317.81 L220.8,317.20 L222.8,316.60 L224.8,316.01 L226.8,315.43 L228.8,314.86 L230.8,314.31 L232.8,313.77 L234.8,313.25 L236.8,312.74 L238.8,312.25 L240.8,311.78 L242.8,311.34 L244.8,310.91 L246.8,310.51 L248.8,310.13 L250.8,309.78 L252.8,309.46 L254.8,309.16 L256.8,308.89 L258.8,308.65 L260.8,308.43 L262.8,308.25 L264.8,308.10 L266.8,307.98 L268.8,307.89 L270.8,307.83 L272.8,307.80 L274.8,307.81 L276.8,307.85 L278.8,307.92 L280.8,308.03 L282.8,308.17 L284.8,308.35 L286.8,308.56 L288.8,308.80 L290.8,309.07 L292.8,309.38 L294.8,309.71 L296.8,310.08 L298.8,310.47 L300.8,310.89 L302.8,311.33 L304.8,311.80 L306.8,312.29 L308.8,312.80 L310.8,313.34 L312.8,313.89 L314.8,314.46 L316.8,315.04 L318.8,315.64 L320.8,316.26 L322.8,316.88 L324.8,317.52 L326.8,318.16 L328.8,318.81 L330.8,319.46 L332.8,320.12 L334.8,320.78 L336.8,321.44 L338.8,322.10 L340.8,322.76 L342.8,323.42 L344.8,324.07 L346.8,324.72 L348.8,325.36 L350.8,325.99 L352.8,326.62 L354.8,327.23 L356.8,327.84 L358.8,328.43 L360.8,329.01 L362.8,329.58 L364.8,330.14 L366.8,330.68 L368.8,331.21 L370.8,331.73 L372.8,332.23 L374.8,332.72 L376.8,333.19 L378.8,333.64 L380.8,334.08 L382.8,334.51 L384.8,334.91 L386.8,335.31 L388.8,335.69 L390.8,336.05 L392.8,336.40 L394.8,336.73 L396.8,337.05 L398.8,337.35 L400.8,337.64 L402.8,337.91 L404.8,338.18 L406.8,338.42 L408.8,338.66 L410.8,338.88 L412.8,339.10 L414.8,339.30 L416.8,339.48 L418.8,339.66 L420.8,339.83 L422.8,339.99 L424.8,340.14 L426.8,340.27 L428.8,340.40 L430.8,340.53 L432.8,340.64 L434.8,340.75 L436.8,340.85 L438.8,340.94 L440.8,341.02 L442.8,341.10 L444.8,341.18 L446.8,341.25 L448.8,341.31 L450.8,341.37 L452.8,341.43 L454.8,341.48 L456.8,341.52 L458.8,341.56 L460.8,341.60 L462.8,341.64 L464.8,341.67 L466.8,341.70 L468.8,341.73 L470.8,341.76 L472.8,341.78 L474.8,341.80 L476.8,341.82 L478.8,341.84 L480.8,341.85 L482.8,341.87 L484.8,341.88 L486.8,341.89 L488.8,341.91 L490.8,341.92 L492.8,341.92 L494.8,341.93 L496.8,341.94 L498.8,341.95 L500.8,341.95 L502.8,341.96 L504.8,341.96 L506.8,341.97 L508.8,341.97 L510.8,341.97 L512.8,341.98 L514.8,341.98 L516.8,341.98 L518.8,341.98 L520.8,341.99 L522.8,341.99 L524.8,341.99 L526.8,341.99 L528.8,341.99 L530.8,341.99 L532.8,341.99 L534.8,341.99 L536.8,341.99 L538.8,342.00 L540.8,342.00 L542.8,342.00 L544.8,342.00 L546.8,342.00 L548.8,342.00 L550.8,342.00 L552.8,342.00 L554.8,342.00 L556.8,342.00 L558.8,342.00 L560.8,342.00 L562.8,342.00 L564.8,342.00 L566.8,342.00 L568.8,342.00 L570.8,342.00 L572.8,342.00 L574.8,342.00 L576.8,342.00 L578.8,342.00 L580.8,342.00 L582.8,342.00 L584.8,342.00 L586.8,342.00 L588.8,342.00 L590.8,342.00 L592.8,342.00 L594.8,342.00 L596.8,342.00 L598.8,342.00 L600.8,342.00 L602.8,342.00 L604.8,342.00 L606.8,342.00 L608.8,342.00 L610.8,342.00 L612.8,342.00 L614.8,342.00 L616.8,342.00 L618.8,342.00 L620.8,342.00 L622.8,342.00 L624.8,342.00 L626.8,342.00 L628.8,342.00 L630.8,342.00 L632.8,342.00 L634.8,342.00 L636.8,342.00 L638.8,342.00 L640.8,342.00 L642.8,342.00 L644.8,342.00 L646.8,342.00 L648.8,342.00 L650.8,342.00 L652.8,342.00 L654.8,342.00 L656.8,342.00 L658.8,342.00 L660.8,342.00 L662.8,342.00 L664.8,342.00 L666.8,342.00 L668.8,342.00 L670.8,342.00 L672.8,342.00 L674.8,342.00 L676.8,342.00 L678.8,342.00 L680.8,342.00 L682.8,342.00 L684.8,342.00 L686.8,342.00 L688.8,342.00 L690.8,342.00 L692.8,342.00 L694.8,342.00 L696.8,342.00 L698.8,342.00 L700.8,342.00 L702.8,342.00 L704.8,342.00 L706.8,342.00 L708.8,342.00 L710.8,342.00 L712.8,342.00 L714.8,342.00 L716.8,342.00 L718.8,342.00" fill="none" stroke="#ff0a0a" stroke-width="4.0" stroke-linejoin="round"/>
<path d="M106.8,340.63 L108.8,340.52 L110.8,340.40 L112.8,340.28 L114.8,340.14 L116.8,340.00 L118.8,339.85 L120.8,339.69 L122.8,339.53 L124.8,339.35 L126.8,339.16 L128.8,338.96 L130.8,338.76 L132.8,338.54 L134.8,338.31 L136.8,338.06 L138.8,337.81 L140.8,337.54 L142.8,337.26 L144.8,336.97 L146.8,336.66 L148.8,336.34 L150.8,336.01 L152.8,335.66 L154.8,335.30 L156.8,334.92 L158.8,334.53 L160.8,334.13 L162.8,333.71 L164.8,333.28 L166.8,332.84 L168.8,332.38 L170.8,331.91 L172.8,331.42 L174.8,330.92 L176.8,330.41 L178.8,329.88 L180.8,329.35 L182.8,328.80 L184.8,328.24 L186.8,327.67 L188.8,327.09 L190.8,326.50 L192.8,325.90 L194.8,325.30 L196.8,324.69 L198.8,324.07 L200.8,323.45 L202.8,322.82 L204.8,322.19 L206.8,321.56 L208.8,320.93 L210.8,320.30 L212.8,319.67 L214.8,319.05 L216.8,318.43 L218.8,317.81 L220.8,317.20 L222.8,316.60 L224.8,316.01 L226.8,315.43 L228.8,314.86 L230.8,314.31 L232.8,313.77 L234.8,313.25 L236.8,312.74 L238.8,312.25 L240.8,311.78 L242.8,311.34 L244.8,310.91 L246.8,310.51 L248.8,310.13 L250.8,309.78 L252.8,309.46 L254.8,309.16 L256.8,308.89 L258.8,308.65 L260.8,308.43 L262.8,308.25 L264.8,308.10 L266.8,307.98 L268.8,307.89 L270.8,307.83 L272.8,307.80 L274.8,307.81 L276.8,307.85 L278.8,307.92 L280.8,308.03 L282.8,308.17 L284.8,308.35 L286.8,308.56 L288.8,308.80 L290.8,309.07 L292.8,309.38 L294.8,309.71 L296.8,310.08 L298.8,310.47 L300.8,310.89 L302.8,311.33 L304.8,311.80 L306.8,312.29 L308.8,312.80 L310.8,313.34 L312.8,313.89 L314.8,314.46 L316.8,315.04 L318.8,315.64 L320.8,316.26 L322.8,316.88 L324.8,317.52 L326.8,318.16 L328.8,318.81 L330.8,319.46 L332.8,320.12 L334.8,320.78 L336.8,321.44 L338.8,322.10 L340.8,322.76 L342.8,323.42 L344.8,324.07 L346.8,324.72 L348.8,325.36 L350.8,325.99 L352.8,326.62 L354.8,327.23 L356.8,327.84 L358.8,328.43 L360.8,329.01 L362.8,329.58 L364.8,330.14 L366.8,330.68 L368.8,331.21 L370.8,331.73 L372.8,332.23 L374.8,332.72 L376.8,333.19 L378.8,333.64 L380.8,334.08 L382.8,334.51 L384.8,334.91 L386.8,335.31 L388.8,335.69 L390.8,336.05 L392.8,336.40 L394.8,336.73 L396.8,337.05 L398.8,337.35 L400.8,337.64 L402.8,337.91 L404.8,338.18 L406.8,338.42 L408.8,338.66 L410.8,338.88 L412.8,339.10 L414.8,339.30 L416.8,339.48 L418.8,339.66 L420.8,339.83 L422.8,339.99 L424.8,340.14 L426.8,340.27 L428.8,340.40 L430.8,340.53 L432.8,340.64 L434.8,340.75 L436.8,340.85 L438.8,340.94 L440.8,341.02 L442.8,341.10 L444.8,341.18 L446.8,341.25 L448.8,341.31 L450.8,341.37 L452.8,341.43 L454.8,341.48 L456.8,341.52 L458.8,341.56 L460.8,341.60 L462.8,341.64 L464.8,341.67 L466.8,341.70 L468.8,341.73 L470.8,341.76 L472.8,341.78 L474.8,341.80 L476.8,341.82 L478.8,341.84 L480.8,341.85 L482.8,341.87 L484.8,341.88 L486.8,341.89 L488.8,341.91 L490.8,341.92 L492.8,341.92 L494.8,341.93 L496.8,341.94 L498.8,341.95 L500.8,341.95 L502.8,341.96 L504.8,341.96 L506.8,341.97 L508.8,341.97 L510.8,341.97 L512.8,341.98 L514.8,341.98 L516.8,341.98 L518.8,341.98 L520.8,341.99 L522.8,341.99 L524.8,341.99 L526.8,341.99 L528.8,341.99 L530.8,341.99 L532.8,341.99 L534.8,341.99 L536.8,341.99 L538.8,342.00 L540.8,342.00 L542.8,342.00 L544.8,342.00 L546.8,342.00 L548.8,342.00 L550.8,342.00 L552.8,342.00 L554.8,342.00 L556.8,342.00 L558.8,342.00 L560.8,342.00 L562.8,342.00 L564.8,342.00 L566.8,342.00 L568.8,342.00 L570.8,342.00 L572.8,342.00 L574.8,342.00 L576.8,342.00 L578.8,342.00 L580.8,342.00 L582.8,342.00 L584.8,342.00 L586.8,342.00 L588.8,342.00 L590.8,342.00 L592.8,342.00 L594.8,342.00 L596.8,342.00 L598.8,342.00 L600.8,342.00 L602.8,342.00 L604.8,342.00 L606.8,342.00 L608.8,342.00 L610.8,342.00 L612.8,342.00 L614.8,342.00 L616.8,342.00 L618.8,342.00 L620.8,342.00 L622.8,342.00 L624.8,342.00 L626.8,342.00 L628.8,342.00 L630.8,342.00 L632.8,342.00 L634.8,342.00 L636.8,342.00 L638.8,342.00 L640.8,342.00 L642.8,342.00 L644.8,342.00 L646.8,342.00 L648.8,342.00 L650.8,342.00 L652.8,342.00 L654.8,342.00 L656.8,342.00 L658.8,342.00 L660.8,342.00 L662.8,342.00 L664.8,342.00 L666.8,342.00 L668.8,342.00 L670.8,342.00 L672.8,342.00 L674.8,342.00 L676.8,342.00 L678.8,342.00 L680.8,342.00 L682.8,342.00 L684.8,342.00 L686.8,342.00 L688.8,342.00 L690.8,342.00 L692.8,342.00 L694.8,342.00 L696.8,342.00 L698.8,342.00 L700.8,342.00 L702.8,342.00 L704.8,342.00 L706.8,342.00 L708.8,342.00 L710.8,342.00 L712.8,342.00 L714.8,342.00 L716.8,342.00 L718.8,342.00" fill="none" stroke="#300000" stroke-opacity="0.6" stroke-width="1.1" transform="translate(0,-0.5)"/>
<path d="M106.8,455.82 L108.8,455.81 L110.8,455.79 L112.8,455.77 L114.8,455.76 L116.8,455.74 L118.8,455.72 L120.8,455.69 L122.8,455.67 L124.8,455.65 L126.8,455.62 L128.8,455.59 L130.8,455.56 L132.8,455.53 L134.8,455.49 L136.8,455.46 L138.8,455.42 L140.8,455.38 L142.8,455.33 L144.8,455.29 L146.8,455.24 L148.8,455.19 L150.8,455.13 L152.8,455.08 L154.8,455.02 L156.8,454.95 L158.8,454.89 L160.8,454.82 L162.8,454.74 L164.8,454.66 L166.8,454.58 L168.8,454.50 L170.8,454.41 L172.8,454.32 L174.8,454.22 L176.8,454.12 L178.8,454.01 L180.8,453.90 L182.8,453.79 L184.8,453.67 L186.8,453.54 L188.8,453.41 L190.8,453.28 L192.8,453.14 L194.8,452.99 L196.8,452.84 L198.8,452.69 L200.8,452.53 L202.8,452.36 L204.8,452.19 L206.8,452.02 L208.8,451.84 L210.8,451.65 L212.8,451.46 L214.8,451.26 L216.8,451.06 L218.8,450.86 L220.8,450.64 L222.8,450.43 L224.8,450.21 L226.8,449.98 L228.8,449.75 L230.8,449.52 L232.8,449.28 L234.8,449.04 L236.8,448.79 L238.8,448.54 L240.8,448.29 L242.8,448.04 L244.8,447.78 L246.8,447.52 L248.8,447.26 L250.8,446.99 L252.8,446.72 L254.8,446.46 L256.8,446.19 L258.8,445.92 L260.8,445.65 L262.8,445.38 L264.8,445.11 L266.8,444.85 L268.8,444.58 L270.8,444.32 L272.8,444.05 L274.8,443.79 L276.8,443.54 L278.8,443.28 L280.8,443.03 L282.8,442.79 L284.8,442.55 L286.8,442.31 L288.8,442.09 L290.8,441.86 L292.8,441.65 L294.8,441.43 L296.8,441.23 L298.8,441.04 L300.8,440.85 L302.8,440.67 L304.8,440.50 L306.8,440.34 L308.8,440.18 L310.8,440.04 L312.8,439.91 L314.8,439.79 L316.8,439.67 L318.8,439.57 L320.8,439.48 L322.8,439.40 L324.8,439.33 L326.8,439.28 L328.8,439.23 L330.8,439.19 L332.8,439.17 L334.8,439.16 L336.8,439.16 L338.8,439.18 L340.8,439.23 L342.8,439.29 L344.8,439.37 L346.8,439.47 L348.8,439.59 L350.8,439.72 L352.8,439.88 L354.8,440.05 L356.8,440.24 L358.8,440.45 L360.8,440.67 L362.8,440.91 L364.8,441.16 L366.8,441.43 L368.8,441.70 L370.8,441.99 L372.8,442.29 L374.8,442.60 L376.8,442.92 L378.8,443.24 L380.8,443.57 L382.8,443.91 L384.8,444.25 L386.8,444.60 L388.8,444.95 L390.8,445.30 L392.8,445.65 L394.8,446.01 L396.8,446.36 L398.8,446.71 L400.8,447.06 L402.8,447.41 L404.8,447.75 L406.8,448.09 L408.8,448.42 L410.8,448.75 L412.8,449.07 L414.8,449.39 L416.8,449.70 L418.8,450.00 L420.8,450.29 L422.8,450.58 L424.8,450.86 L426.8,451.13 L428.8,451.39 L430.8,451.64 L432.8,451.88 L434.8,452.12 L436.8,452.34 L438.8,452.56 L440.8,452.77 L442.8,452.96 L444.8,453.15 L446.8,453.34 L448.8,453.51 L450.8,453.67 L452.8,453.83 L454.8,453.98 L456.8,454.12 L458.8,454.25 L460.8,454.37 L462.8,454.49 L464.8,454.60 L466.8,454.71 L468.8,454.81 L470.8,454.90 L472.8,454.98 L474.8,455.06 L476.8,455.14 L478.8,455.21 L480.8,455.27 L482.8,455.34 L484.8,455.39 L486.8,455.44 L488.8,455.49 L490.8,455.54 L492.8,455.58 L494.8,455.62 L496.8,455.65 L498.8,455.68 L500.8,455.71 L502.8,455.74 L504.8,455.76 L506.8,455.79 L508.8,455.81 L510.8,455.83 L512.8,455.84 L514.8,455.86 L516.8,455.87 L518.8,455.89 L520.8,455.90 L522.8,455.91 L524.8,455.92 L526.8,455.93 L528.8,455.94 L530.8,455.94 L532.8,455.95 L534.8,455.95 L536.8,455.96 L538.8,455.96 L540.8,455.97 L542.8,455.97 L544.8,455.98 L546.8,455.98 L548.8,455.98 L550.8,455.98 L552.8,455.99 L554.8,455.99 L556.8,455.99 L558.8,455.99 L560.8,455.99 L562.8,455.99 L564.8,455.99 L566.8,455.99 L568.8,455.99 L570.8,456.00 L572.8,456.00 L574.8,456.00 L576.8,456.00 L578.8,456.00 L580.8,456.00 L582.8,456.00 L584.8,456.00 L586.8,456.00 L588.8,456.00 L590.8,456.00 L592.8,456.00 L594.8,456.00 L596.8,456.00 L598.8,456.00 L600.8,456.00 L602.8,456.00 L604.8,456.00 L606.8,456.00 L608.8,456.00 L610.8,456.00 L612.8,456.00 L614.8,456.00 L616.8,456.00 L618.8,456.00 L620.8,456.00 L622.8,456.00 L624.8,456.00 L626.8,456.00 L628.8,456.00 L630.8,456.00 L632.8,456.00 L634.8,456.00 L636.8,456.00 L638.8,456.00 L640.8,456.00 L642.8,456.00 L644.8,456.00 L646.8,456.00 L648.8,456.00 L650.8,456.00 L652.8,456.00 L654.8,456.00 L656.8,456.00 L658.8,456.00 L660.8,456.00 L662.8,456.00 L664.8,456.00 L666.8,456.00 L668.8,456.00 L670.8,456.00 L672.8,456.00 L674.8,456.00 L676.8,456.00 L678.8,456.00 L680.8,456.00 L682.8,456.00 L684.8,456.00 L686.8,456.00 L688.8,456.00 L690.8,456.00 L692.8,456.00 L694.8,456.00 L696.8,456.00 L698.8,456.00 L700.8,456.00 L702.8,456.00 L704.8,456.00 L706.8,456.00 L708.8,456.00 L710.8,456.00 L712.8,456.00 L714.8,456.00 L716.8,456.00 L718.8,456.00" fill="none" stroke="#ff0a0a" stroke-width="4.0" stroke-linejoin="round"/>
<path d="M106.8,455.82 L108.8,455.81 L110.8,455.79 L112.8,455.77 L114.8,455.76 L116.8,455.74 L118.8,455.72 L120.8,455.69 L122.8,455.67 L124.8,455.65 L126.8,455.62 L128.8,455.59 L130.8,455.56 L132.8,455.53 L134.8,455.49 L136.8,455.46 L138.8,455.42 L140.8,455.38 L142.8,455.33 L144.8,455.29 L146.8,455.24 L148.8,455.19 L150.8,455.13 L152.8,455.08 L154.8,455.02 L156.8,454.95 L158.8,454.89 L160.8,454.82 L162.8,454.74 L164.8,454.66 L166.8,454.58 L168.8,454.50 L170.8,454.41 L172.8,454.32 L174.8,454.22 L176.8,454.12 L178.8,454.01 L180.8,453.90 L182.8,453.79 L184.8,453.67 L186.8,453.54 L188.8,453.41 L190.8,453.28 L192.8,453.14 L194.8,452.99 L196.8,452.84 L198.8,452.69 L200.8,452.53 L202.8,452.36 L204.8,452.19 L206.8,452.02 L208.8,451.84 L210.8,451.65 L212.8,451.46 L214.8,451.26 L216.8,451.06 L218.8,450.86 L220.8,450.64 L222.8,450.43 L224.8,450.21 L226.8,449.98 L228.8,449.75 L230.8,449.52 L232.8,449.28 L234.8,449.04 L236.8,448.79 L238.8,448.54 L240.8,448.29 L242.8,448.04 L244.8,447.78 L246.8,447.52 L248.8,447.26 L250.8,446.99 L252.8,446.72 L254.8,446.46 L256.8,446.19 L258.8,445.92 L260.8,445.65 L262.8,445.38 L264.8,445.11 L266.8,444.85 L268.8,444.58 L270.8,444.32 L272.8,444.05 L274.8,443.79 L276.8,443.54 L278.8,443.28 L280.8,443.03 L282.8,442.79 L284.8,442.55 L286.8,442.31 L288.8,442.09 L290.8,441.86 L292.8,441.65 L294.8,441.43 L296.8,441.23 L298.8,441.04 L300.8,440.85 L302.8,440.67 L304.8,440.50 L306.8,440.34 L308.8,440.18 L310.8,440.04 L312.8,439.91 L314.8,439.79 L316.8,439.67 L318.8,439.57 L320.8,439.48 L322.8,439.40 L324.8,439.33 L326.8,439.28 L328.8,439.23 L330.8,439.19 L332.8,439.17 L334.8,439.16 L336.8,439.16 L338.8,439.18 L340.8,439.23 L342.8,439.29 L344.8,439.37 L346.8,439.47 L348.8,439.59 L350.8,439.72 L352.8,439.88 L354.8,440.05 L356.8,440.24 L358.8,440.45 L360.8,440.67 L362.8,440.91 L364.8,441.16 L366.8,441.43 L368.8,441.70 L370.8,441.99 L372.8,442.29 L374.8,442.60 L376.8,442.92 L378.8,443.24 L380.8,443.57 L382.8,443.91 L384.8,444.25 L386.8,444.60 L388.8,444.95 L390.8,445.30 L392.8,445.65 L394.8,446.01 L396.8,446.36 L398.8,446.71 L400.8,447.06 L402.8,447.41 L404.8,447.75 L406.8,448.09 L408.8,448.42 L410.8,448.75 L412.8,449.07 L414.8,449.39 L416.8,449.70 L418.8,450.00 L420.8,450.29 L422.8,450.58 L424.8,450.86 L426.8,451.13 L428.8,451.39 L430.8,451.64 L432.8,451.88 L434.8,452.12 L436.8,452.34 L438.8,452.56 L440.8,452.77 L442.8,452.96 L444.8,453.15 L446.8,453.34 L448.8,453.51 L450.8,453.67 L452.8,453.83 L454.8,453.98 L456.8,454.12 L458.8,454.25 L460.8,454.37 L462.8,454.49 L464.8,454.60 L466.8,454.71 L468.8,454.81 L470.8,454.90 L472.8,454.98 L474.8,455.06 L476.8,455.14 L478.8,455.21 L480.8,455.27 L482.8,455.34 L484.8,455.39 L486.8,455.44 L488.8,455.49 L490.8,455.54 L492.8,455.58 L494.8,455.62 L496.8,455.65 L498.8,455.68 L500.8,455.71 L502.8,455.74 L504.8,455.76 L506.8,455.79 L508.8,455.81 L510.8,455.83 L512.8,455.84 L514.8,455.86 L516.8,455.87 L518.8,455.89 L520.8,455.90 L522.8,455.91 L524.8,455.92 L526.8,455.93 L528.8,455.94 L530.8,455.94 L532.8,455.95 L534.8,455.95 L536.8,455.96 L538.8,455.96 L540.8,455.97 L542.8,455.97 L544.8,455.98 L546.8,455.98 L548.8,455.98 L550.8,455.98 L552.8,455.99 L554.8,455.99 L556.8,455.99 L558.8,455.99 L560.8,455.99 L562.8,455.99 L564.8,455.99 L566.8,455.99 L568.8,455.99 L570.8,456.00 L572.8,456.00 L574.8,456.00 L576.8,456.00 L578.8,456.00 L580.8,456.00 L582.8,456.00 L584.8,456.00 L586.8,456.00 L588.8,456.00 L590.8,456.00 L592.8,456.00 L594.8,456.00 L596.8,456.00 L598.8,456.00 L600.8,456.00 L602.8,456.00 L604.8,456.00 L606.8,456.00 L608.8,456.00 L610.8,456.00 L612.8,456.00 L614.8,456.00 L616.8,456.00 L618.8,456.00 L620.8,456.00 L622.8,456.00 L624.8,456.00 L626.8,456.00 L628.8,456.00 L630.8,456.00 L632.8,456.00 L634.8,456.00 L636.8,456.00 L638.8,456.00 L640.8,456.00 L642.8,456.00 L644.8,456.00 L646.8,456.00 L648.8,456.00 L650.8,456.00 L652.8,456.00 L654.8,456.00 L656.8,456.00 L658.8,456.00 L660.8,456.00 L662.8,456.00 L664.8,456.00 L666.8,456.00 L668.8,456.00 L670.8,456.00 L672.8,456.00 L674.8,456.00 L676.8,456.00 L678.8,456.00 L680.8,456.00 L682.8,456.00 L684.8,456.00 L686.8,456.00 L688.8,456.00 L690.8,456.00 L692.8,456.00 L694.8,456.00 L696.8,456.00 L698.8,456.00 L700.8,456.00 L702.8,456.00 L704.8,456.00 L706.8,456.00 L708.8,456.00 L710.8,456.00 L712.8,456.00 L714.8,456.00 L716.8,456.00 L718.8,456.00" fill="none" stroke="#300000" stroke-opacity="0.6" stroke-width="1.1" transform="translate(0,-0.5)"/>
<line x1="437.8" y1="3.8" x2="437.8" y2="114.5" stroke="#d42ad4" stroke-width="2.6" stroke-dasharray="9.5 4"/>
<line x1="437.8" y1="3.8" x2="437.8" y2="114.5" stroke="#8a1a8a" stroke-opacity="0.5" stroke-width="1" stroke-dasharray="9.5 4"/>
<line x1="323.8" y1="116.7" x2="323.8" y2="228.3" stroke="#d42ad4" stroke-width="2.6" stroke-dasharray="9.5 4"/>
<line x1="323.8" y1="116.7" x2="323.8" y2="228.3" stroke="#8a1a8a" stroke-opacity="0.5" stroke-width="1" stroke-dasharray="9.5 4"/>
<line x1="279.0" y1="230.5" x2="279.0" y2="342.2" stroke="#d42ad4" stroke-width="2.6" stroke-dasharray="9.5 4"/>
<line x1="279.0" y1="230.5" x2="279.0" y2="342.2" stroke="#8a1a8a" stroke-opacity="0.5" stroke-width="1" stroke-dasharray="9.5 4"/>
<line x1="343.0" y1="344.4" x2="343.0" y2="456.2" stroke="#d42ad4" stroke-width="2.6" stroke-dasharray="9.5 4"/>
<line x1="343.0" y1="344.4" x2="343.0" y2="456.2" stroke="#8a1a8a" stroke-opacity="0.5" stroke-width="1" stroke-dasharray="9.5 4"/>
<text x="603.3" y="30.8" font-size="16.5" font-weight="bold" fill="#111" stroke="#111" stroke-width="0.45" textLength="101.3" lengthAdjust="spacingAndGlyphs"><tspan dy="0">PEA</tspan><tspan font-size="11.9" dy="3.2">2</tspan><tspan dy="-3.2">PbBr</tspan><tspan font-size="11.9" dy="3.2">4</tspan></text>
<text x="529.7" y="144.5" font-size="16.5" font-weight="bold" fill="#111" stroke="#111" stroke-width="0.45" textLength="174.3" lengthAdjust="spacingAndGlyphs"><tspan dy="0">PEA</tspan><tspan font-size="11.9" dy="3.2">1.5</tspan><tspan dy="-3.2">BZA</tspan><tspan font-size="11.9" dy="3.2">0.5</tspan><tspan dy="-3.2">PbBr</tspan><tspan font-size="11.9" dy="3.2">4</tspan></text>
<text x="573.2" y="258.3" font-size="16.5" font-weight="bold" fill="#111" stroke="#111" stroke-width="0.45" textLength="130.8" lengthAdjust="spacingAndGlyphs"><tspan dy="0">PEABZAPbBr</tspan><tspan font-size="11.9" dy="3.2">4</tspan></text>
<text x="601.2" y="373.4" font-size="16.5" font-weight="bold" fill="#111" stroke="#111" stroke-width="0.45" textLength="102.8" lengthAdjust="spacingAndGlyphs"><tspan dy="0">BZA</tspan><tspan font-size="11.9" dy="3.2">2</tspan><tspan dy="-3.2">PbBr</tspan><tspan font-size="11.9" dy="3.2">4</tspan></text>
<text x="98.86" y="481.8" font-size="24" fill="#2a2a2a" textLength="15.27" lengthAdjust="spacingAndGlyphs">0</text>
<text x="160.28" y="481.8" font-size="24" fill="#2a2a2a" textLength="45.81" lengthAdjust="spacingAndGlyphs">250</text>
<text x="236.97" y="481.8" font-size="24" fill="#2a2a2a" textLength="45.81" lengthAdjust="spacingAndGlyphs">500</text>
<text x="313.66" y="481.8" font-size="24" fill="#2a2a2a" textLength="45.81" lengthAdjust="spacingAndGlyphs">750</text>
<text x="382.71" y="481.8" font-size="24" fill="#2a2a2a" textLength="61.08" lengthAdjust="spacingAndGlyphs">1000</text>
<text x="459.40" y="481.8" font-size="24" fill="#2a2a2a" textLength="61.08" lengthAdjust="spacingAndGlyphs">1250</text>
<text x="536.09" y="481.8" font-size="24" fill="#2a2a2a" textLength="61.08" lengthAdjust="spacingAndGlyphs">1500</text>
<text x="612.77" y="481.8" font-size="24" fill="#2a2a2a" textLength="61.08" lengthAdjust="spacingAndGlyphs">1750</text>
<text x="689.46" y="481.8" font-size="24" fill="#2a2a2a" textLength="61.08" lengthAdjust="spacingAndGlyphs">2000</text>
<path d="M95.2,102.6v3M95.2,212.6v3" stroke="#8a8a8a" stroke-width="1"/>
</g>
<text x="397.5" y="522.3" font-size="35.5" font-weight="bold" text-anchor="middle" fill="#000">Channel</text>
<text transform="translate(30.2,245.0) rotate(-90)" font-size="41.2" font-weight="bold" text-anchor="middle" fill="#000">Counts (a. u.)</text>
<text transform="translate(5.42,52.26) scale(1.1227,1)" font-size="60.84" fill="#000" stroke="#000" stroke-width="0.27" stroke-linejoin="round">(</text>
<text transform="translate(32.81,53.07) scale(0.8678,1)" font-size="62.77" fill="#000" stroke="#000" stroke-width="0.69" stroke-linejoin="round">a</text>
<text transform="translate(71.66,52.26) scale(1.0731,1)" font-size="60.84" fill="#000" stroke="#000" stroke-width="0.28" stroke-linejoin="round">)</text>
<g id="panel-b">
<rect x="107.0" y="552.6" width="610.0" height="439.79999999999995" fill="none" stroke="#000" stroke-width="3"/>
<path d="M107.00,972.71h-4.5 M717.00,972.71h-5 M107.00,954.49h-4.5 M717.00,954.49h-5 M107.00,937.15h-4.5 M717.00,937.15h-5 M107.00,920.63h-4.5 M717.00,920.63h-5 M107.00,904.83h-4.5 M717.00,904.83h-5 M107.00,889.72h-4.5 M717.00,889.72h-5 M107.00,875.21h-4.5 M717.00,875.21h-5 M107.00,861.28h-4.5 M717.00,861.28h-5 M107.00,847.87h-8.5 M717.00,847.87h-9.5 M107.00,834.95h-4.5 M717.00,834.95h-5 M107.00,822.49h-4.5 M717.00,822.49h-5 M107.00,810.44h-4.5 M717.00,810.44h-5 M107.00,798.79h-4.5 M717.00,798.79h-5 M107.00,787.52h-4.5 M717.00,787.52h-5 M107.00,776.58h-4.5 M717.00,776.58h-5 M107.00,765.98h-4.5 M717.00,765.98h-5 M107.00,755.68h-4.5 M717.00,755.68h-5 M107.00,745.67h-8.5 M717.00,745.67h-9.5 M107.00,735.94h-4.5 M717.00,735.94h-5 M107.00,726.46h-4.5 M717.00,726.46h-5 M107.00,717.24h-4.5 M717.00,717.24h-5 M107.00,708.24h-4.5 M717.00,708.24h-5 M107.00,699.47h-4.5 M717.00,699.47h-5 M107.00,690.91h-4.5 M717.00,690.91h-5 M107.00,682.55h-4.5 M717.00,682.55h-5 M107.00,674.38h-4.5 M717.00,674.38h-5 M107.00,666.40h-8.5 M717.00,666.40h-9.5 M107.00,658.59h-4.5 M717.00,658.59h-5 M107.00,650.95h-4.5 M717.00,650.95h-5 M107.00,643.47h-4.5 M717.00,643.47h-5 M107.00,636.15h-4.5 M717.00,636.15h-5 M107.00,628.97h-4.5 M717.00,628.97h-5 M107.00,621.94h-4.5 M717.00,621.94h-5 M107.00,615.04h-4.5 M717.00,615.04h-5 M107.00,608.27h-4.5 M717.00,608.27h-5 M107.00,601.63h-8.5 M717.00,601.63h-9.5 M107.00,595.11h-4.5 M717.00,595.11h-5 M107.00,588.71h-4.5 M717.00,588.71h-5 M107.00,582.42h-4.5 M717.00,582.42h-5 M107.00,576.24h-4.5 M717.00,576.24h-5 M107.00,570.17h-4.5 M717.00,570.17h-5 M107.00,564.20h-4.5 M717.00,564.20h-5 M107.00,558.33h-4.5 M717.00,558.33h-5 M130.50,992.40v9 M130.50,552.60v9 M364.75,992.40v9 M364.75,552.60v9 M599.00,992.40v9 M599.00,552.60v9 M247.62,992.40v5 M247.62,552.60v5 M481.87,992.40v5 M481.87,552.60v5" stroke="#000" stroke-width="3" fill="none"/>
<text x="92" y="1002.71" font-size="37" text-anchor="end" fill="#000">0.4</text>
<text x="92" y="858.67" font-size="37" text-anchor="end" fill="#000">0.6</text>
<text x="92" y="756.47" font-size="37" text-anchor="end" fill="#000">0.8</text>
<text x="92" y="677.20" font-size="37" text-anchor="end" fill="#000">1</text>
<text x="92" y="612.43" font-size="37" text-anchor="end" fill="#000">1.2</text>
<text x="130.50" y="1036.5" font-size="37" text-anchor="middle" fill="#000">0</text>
<text x="364.75" y="1036.5" font-size="37" text-anchor="middle" fill="#000">50</text>
<text x="599.00" y="1036.5" font-size="37" text-anchor="middle" fill="#000">100</text>
<text x="403.5" y="1079" font-size="35" font-weight="bold" text-anchor="middle" fill="#000">BZA concentration (%)</text>
<text transform="translate(28.6,763) rotate(-90)" font-size="35.6" font-weight="bold" text-anchor="middle" fill="#000">LY (Norm. to 14.2 ph/keV)</text>
<text transform="translate(597.92,623.51) scale(1.1418,1)" font-size="61.80" fill="#000" stroke="#fff" stroke-width="0.35" stroke-linejoin="round">(</text>
<text transform="translate(625.73,624.67) scale(1.0677,1)" font-size="62.99" fill="#000" stroke="#fff" stroke-width="0.37" stroke-linejoin="round">b</text>
<text transform="translate(667.07,623.51) scale(1.1479,1)" font-size="61.80" fill="#000" stroke="#fff" stroke-width="0.35" stroke-linejoin="round">)</text>
<path d="M130.50,601.60V746.00M126.50,601.60h8M126.50,746.00h8M154.00,584.50V729.00M150.00,584.50h8M150.00,729.00h8M152.00,649.40H156.00M152.00,645.40v8M156.00,645.40v8M177.40,591.50V736.40M173.40,591.50h8M173.40,736.40h8M175.40,656.40H179.40M175.40,652.40v8M179.40,652.40v8M224.40,633.10V777.60M220.40,633.10h8M220.40,777.60h8M247.70,730.00V874.00M243.70,730.00h8M243.70,874.00h8M236.70,793.60H258.70M236.70,789.60v8M258.70,789.60v8M365.20,815.00V959.50M361.20,815.00h8M361.20,959.50h8M341.70,879.50H388.70M341.70,875.50v8M388.70,875.50v8M599.50,705.70V850.50M595.50,705.70h8M595.50,850.50h8M552.50,770.30H646.50M552.50,766.30v8M646.50,766.30v8" stroke="#7a7a7a" stroke-width="1.1" fill="none"/>
<line x1="130.5" y1="666.4" x2="154.0" y2="649.4" stroke="#000" stroke-width="3.2"/>
<line x1="177.4" y1="656.4" x2="224.4" y2="698.0" stroke="#000" stroke-width="3.2" stroke-linecap="round" stroke-dasharray="16.6 26.7" stroke-dashoffset="-33.8"/>
<line x1="224.4" y1="698.0" x2="247.7" y2="793.6" stroke="#000" stroke-width="3.2" stroke-linecap="round" stroke-dasharray="16.6 26.7" stroke-dashoffset="-17.0"/>
<line x1="247.7" y1="793.6" x2="365.2" y2="879.5" stroke="#000" stroke-width="3.2" stroke-linecap="round" stroke-dasharray="16.6 26.7" stroke-dashoffset="-1.9"/>
<line x1="365.2" y1="879.5" x2="599.5" y2="770.3" stroke="#000" stroke-width="3.2" stroke-linecap="round" stroke-dasharray="16.6 26.7" stroke-dashoffset="-32.4"/>
<circle cx="130.5" cy="666.4" r="10.7" fill="#000"/>
<circle cx="127.50" cy="663.70" r="5.6" fill="url(#gH)"/>
<circle cx="154.0" cy="649.4" r="10.7" fill="#000"/>
<circle cx="151.00" cy="646.70" r="5.6" fill="url(#gH)"/>
<circle cx="177.4" cy="656.4" r="10.7" fill="#000"/>
<circle cx="174.40" cy="653.70" r="5.6" fill="url(#gH)"/>
<circle cx="224.4" cy="698.0" r="10.7" fill="#000"/>
<circle cx="221.40" cy="695.30" r="5.6" fill="url(#gH)"/>
<circle cx="247.7" cy="793.6" r="10.7" fill="#000"/>
<circle cx="244.70" cy="790.90" r="5.6" fill="url(#gH)"/>
<circle cx="365.2" cy="879.5" r="10.7" fill="#000"/>
<circle cx="362.20" cy="876.80" r="5.6" fill="url(#gH)"/>
<circle cx="599.5" cy="770.3" r="10.7" fill="#000"/>
<circle cx="596.50" cy="767.60" r="5.6" fill="url(#gH)"/>
</g>
<g id="panel-c">
<path d="M111.00,1606.50h-9 M111.00,1444.85h-9 M111.00,1283.20h-9 M111.00,1121.55h-9 M111.00,1525.67h-4.5 M111.00,1364.03h-4.5 M111.00,1202.38h-4.5 M111.00,1606.50v9 M195.62,1606.50v9 M280.25,1606.50v9 M364.88,1606.50v9 M449.50,1606.50v9 M534.12,1606.50v9 M618.75,1606.50v9 M703.38,1606.50v9 M153.31,1606.50v5 M237.94,1606.50v5 M322.56,1606.50v5 M407.19,1606.50v5 M491.81,1606.50v5 M576.44,1606.50v5 M661.06,1606.50v5" stroke="#000" stroke-width="3.2" fill="none"/>
<rect x="111.0" y="1121.0" width="609.0" height="485.5" fill="none" stroke="#000" stroke-width="3.2"/>
<text x="95" y="1615.30" font-size="31.6" text-anchor="end" fill="#000">0.0</text>
<text x="95" y="1453.65" font-size="31.6" text-anchor="end" fill="#000">0.5</text>
<text x="95" y="1292.00" font-size="31.6" text-anchor="end" fill="#000">1.0</text>
<text x="95" y="1130.35" font-size="31.6" text-anchor="end" fill="#000">1.5</text>
<text x="111.00" y="1647.5" font-size="31" text-anchor="middle" fill="#000">0</text>
<text x="195.62" y="1647.5" font-size="31" text-anchor="middle" fill="#000">50</text>
<text x="280.25" y="1647.5" font-size="31" text-anchor="middle" fill="#000">100</text>
<text x="364.88" y="1647.5" font-size="31" text-anchor="middle" fill="#000">150</text>
<text x="449.50" y="1647.5" font-size="31" text-anchor="middle" fill="#000">200</text>
<text x="534.12" y="1647.5" font-size="31" text-anchor="middle" fill="#000">250</text>
<text x="618.75" y="1647.5" font-size="31" text-anchor="middle" fill="#000">300</text>
<text x="703.38" y="1647.5" font-size="31" text-anchor="middle" fill="#000">350</text>
<text x="393.4" y="1692" font-size="35" font-weight="bold" text-anchor="middle" fill="#000">Temperature (K)</text>
<text transform="translate(29.4,1378.3) rotate(-90)" font-size="34.5" font-weight="bold" text-anchor="middle" fill="#000">Light Yield (Norm.)</text>
<text transform="translate(128.00,1178.04) scale(1.1420,1)" font-size="62.12" fill="#000" stroke="#fff" stroke-width="0.53" stroke-linejoin="round">(</text>
<text transform="translate(154.92,1179.36) scale(1.0366,1)" font-size="63.87" fill="#000" stroke="#fff" stroke-width="0.58" stroke-linejoin="round">c</text>
<text transform="translate(189.97,1178.04) scale(1.1541,1)" font-size="62.12" fill="#000" stroke="#fff" stroke-width="0.52" stroke-linejoin="round">)</text>
<path d="M127.92,1347.50V1433.90M123.33,1347.50h9.2M123.33,1433.90h9.2M144.85,1363.40V1444.50M140.25,1363.40h9.2M140.25,1444.50h9.2M161.78,1373.20V1450.50M157.18,1373.20h9.2M157.18,1450.50h9.2M178.70,1383.00V1457.40M174.10,1383.00h9.2M174.10,1457.40h9.2M195.62,1391.70V1463.20M191.03,1391.70h9.2M191.03,1463.20h9.2M212.55,1397.70V1467.50M207.95,1397.70h9.2M207.95,1467.50h9.2M229.47,1398.60V1467.80M224.88,1398.60h9.2M224.88,1467.80h9.2M246.40,1400.60V1469.00M241.80,1400.60h9.2M241.80,1469.00h9.2M263.32,1405.10V1472.30M258.72,1405.10h9.2M258.72,1472.30h9.2M280.25,1408.00V1474.10M275.65,1408.00h9.2M275.65,1474.10h9.2M297.17,1410.80V1476.30M292.57,1410.80h9.2M292.57,1476.30h9.2M314.10,1414.40V1478.20M309.50,1414.40h9.2M309.50,1478.20h9.2M331.02,1420.40V1482.30M326.42,1420.40h9.2M326.42,1482.30h9.2M347.95,1419.20V1481.40M343.35,1419.20h9.2M343.35,1481.40h9.2M364.88,1426.60V1486.40M360.27,1426.60h9.2M360.27,1486.40h9.2M381.80,1438.40V1494.10M377.20,1438.40h9.2M377.20,1494.10h9.2M398.72,1446.30V1499.10M394.12,1446.30h9.2M394.12,1499.10h9.2M415.65,1448.00V1500.80M411.05,1448.00h9.2M411.05,1500.80h9.2M432.57,1452.80V1503.90M427.97,1452.80h9.2M427.97,1503.90h9.2M449.50,1455.50V1505.50M444.90,1455.50h9.2M444.90,1505.50h9.2M466.42,1449.30V1501.40M461.82,1449.30h9.2M461.82,1501.40h9.2M483.35,1448.60V1501.00M478.75,1448.60h9.2M478.75,1501.00h9.2M500.27,1435.70V1492.50M495.67,1435.70h9.2M495.67,1492.50h9.2M517.20,1425.90V1486.20M512.60,1425.90h9.2M512.60,1486.20h9.2M534.12,1408.00V1474.50M529.52,1408.00h9.2M529.52,1474.50h9.2M551.05,1383.30V1457.70M546.45,1383.30h9.2M546.45,1457.70h9.2M567.97,1352.30V1436.30M563.37,1352.30h9.2M563.37,1436.30h9.2M584.90,1314.50V1411.50M580.30,1314.50h9.2M580.30,1411.50h9.2M601.83,1270.00V1381.90M597.23,1270.00h9.2M597.23,1381.90h9.2M618.75,1218.30V1347.60M614.15,1218.30h9.2M614.15,1347.60h9.2M635.67,1178.50V1321.20M631.07,1178.50h9.2M631.07,1321.20h9.2M652.60,1145.00V1298.90M648.00,1145.00h9.2M648.00,1298.90h9.2M669.52,1139.30V1294.50M664.92,1139.30h9.2M664.92,1294.50h9.2M686.45,1150.60V1302.70M681.85,1150.60h9.2M681.85,1302.70h9.2M703.38,1193.40V1331.10M698.77,1193.40h9.2M698.77,1331.10h9.2" stroke="#6e6e6e" stroke-width="1.1" fill="none"/>
<circle cx="127.92" cy="1390.5" r="5.9" fill="url(#gG)"/>
<circle cx="144.85" cy="1403.4" r="5.9" fill="url(#gG)"/>
<circle cx="161.78" cy="1411.8" r="5.9" fill="url(#gG)"/>
<circle cx="178.70" cy="1420" r="5.9" fill="url(#gG)"/>
<circle cx="195.62" cy="1427.2" r="5.9" fill="url(#gG)"/>
<circle cx="212.55" cy="1432.5" r="5.9" fill="url(#gG)"/>
<circle cx="229.47" cy="1433.2" r="5.9" fill="url(#gG)"/>
<circle cx="246.40" cy="1434.4" r="5.9" fill="url(#gG)"/>
<circle cx="263.32" cy="1438.7" r="5.9" fill="url(#gG)"/>
<circle cx="280.25" cy="1440.7" r="5.9" fill="url(#gG)"/>
<circle cx="297.17" cy="1443.2" r="5.9" fill="url(#gG)"/>
<circle cx="314.10" cy="1445.8" r="5.9" fill="url(#gG)"/>
<circle cx="331.02" cy="1451.4" r="5.9" fill="url(#gG)"/>
<circle cx="347.95" cy="1449.7" r="5.9" fill="url(#gG)"/>
<circle cx="364.88" cy="1456.4" r="5.9" fill="url(#gG)"/>
<circle cx="381.80" cy="1466" r="5.9" fill="url(#gG)"/>
<circle cx="398.72" cy="1472.7" r="5.9" fill="url(#gG)"/>
<circle cx="415.65" cy="1474.2" r="5.9" fill="url(#gG)"/>
<circle cx="432.57" cy="1478.2" r="5.9" fill="url(#gG)"/>
<circle cx="449.50" cy="1480.3" r="5.9" fill="url(#gG)"/>
<circle cx="466.42" cy="1475.2" r="5.9" fill="url(#gG)"/>
<circle cx="483.35" cy="1475" r="5.9" fill="url(#gG)"/>
<circle cx="500.27" cy="1464.4" r="5.9" fill="url(#gG)"/>
<circle cx="517.20" cy="1456" r="5.9" fill="url(#gG)"/>
<circle cx="534.12" cy="1441" r="5.9" fill="url(#gG)"/>
<circle cx="551.05" cy="1420.8" r="5.9" fill="url(#gG)"/>
<circle cx="567.97" cy="1394.3" r="5.9" fill="url(#gG)"/>
<circle cx="584.90" cy="1362.9" r="5.9" fill="url(#gG)"/>
<circle cx="601.83" cy="1325.7" r="5.9" fill="url(#gG)"/>
<circle cx="618.75" cy="1282.8" r="5.9" fill="url(#gG)"/>
<circle cx="635.67" cy="1249.7" r="5.9" fill="url(#gG)"/>
<circle cx="652.60" cy="1221.8" r="5.9" fill="url(#gG)"/>
<circle cx="669.52" cy="1216.9" r="5.9" fill="url(#gG)"/>
<circle cx="686.45" cy="1226.6" r="5.9" fill="url(#gG)"/>
<circle cx="703.38" cy="1262.4" r="5.9" fill="url(#gG)"/>
<path d="M127.92,1470.20V1515.40M123.33,1470.20h9.2M123.33,1515.40h9.2M144.85,1474.80V1518.50M140.25,1474.80h9.2M140.25,1518.50h9.2M161.78,1475.50V1519.20M157.18,1475.50h9.2M157.18,1519.20h9.2M178.70,1495.20V1532.20M174.10,1495.20h9.2M174.10,1532.20h9.2M195.62,1511.00V1542.50M191.03,1511.00h9.2M191.03,1542.50h9.2M212.55,1507.40V1540.30M207.95,1507.40h9.2M207.95,1540.30h9.2M229.47,1510.00V1542.20M224.88,1510.00h9.2M224.88,1542.20h9.2M246.40,1517.80V1547.30M241.80,1517.80h9.2M241.80,1547.30h9.2M263.32,1511.30V1543.20M258.72,1511.30h9.2M258.72,1543.20h9.2M280.25,1518.50V1547.80M275.65,1518.50h9.2M275.65,1547.80h9.2M297.17,1529.80V1555.30M292.57,1529.80h9.2M292.57,1555.30h9.2M314.10,1531.30V1556.20M309.50,1531.30h9.2M309.50,1556.20h9.2M331.02,1538.00V1560.80M326.42,1538.00h9.2M326.42,1560.80h9.2M347.95,1533.70V1558.40M343.35,1533.70h9.2M343.35,1558.40h9.2M364.88,1530.80V1556.20M360.27,1530.80h9.2M360.27,1556.20h9.2M381.80,1534.40V1558.40M377.20,1534.40h9.2M377.20,1558.40h9.2M398.72,1541.10V1563.20M394.12,1541.10h9.2M394.12,1563.20h9.2M415.65,1546.40V1565.50M411.05,1546.40h9.2M411.05,1565.50h9.2M432.57,1522.20V1550.30M427.97,1522.20h9.2M427.97,1550.30h9.2M449.50,1528.40V1554.50M444.90,1528.40h9.2M444.90,1554.50h9.2M466.42,1523.50V1551.50M461.82,1523.50h9.2M461.82,1551.50h9.2M483.35,1517.20V1547.10M478.75,1517.20h9.2M478.75,1547.10h9.2M500.27,1512.20V1543.60M495.67,1512.20h9.2M495.67,1543.60h9.2M517.20,1492.50V1530.90M512.60,1492.50h9.2M512.60,1530.90h9.2M534.12,1491.00V1530.40M529.52,1491.00h9.2M529.52,1530.40h9.2M551.05,1479.00V1521.80M546.45,1479.00h9.2M546.45,1521.80h9.2M567.97,1455.50V1505.70M563.37,1455.50h9.2M563.37,1505.70h9.2M584.90,1437.30V1493.90M580.30,1437.30h9.2M580.30,1493.90h9.2M601.83,1421.00V1482.60M597.23,1421.00h9.2M597.23,1482.60h9.2M618.75,1393.10V1464.20M614.15,1393.10h9.2M614.15,1464.20h9.2M635.67,1348.60V1434.40M631.07,1348.60h9.2M631.07,1434.40h9.2M652.60,1337.50V1427.40M648.00,1337.50h9.2M648.00,1427.40h9.2M669.52,1299.90V1402.40M664.92,1299.90h9.2M664.92,1402.40h9.2M686.45,1256.40V1373.00M681.85,1256.40h9.2M681.85,1373.00h9.2M703.38,1216.40V1346.30M698.77,1216.40h9.2M698.77,1346.30h9.2" stroke="#2f8de8" stroke-width="1.1" fill="none"/>
<circle cx="127.92" cy="1492.3" r="5.9" fill="url(#gB)"/>
<circle cx="144.85" cy="1496.6" r="5.9" fill="url(#gB)"/>
<circle cx="161.78" cy="1497.4" r="5.9" fill="url(#gB)"/>
<circle cx="178.70" cy="1513.4" r="5.9" fill="url(#gB)"/>
<circle cx="195.62" cy="1526.4" r="5.9" fill="url(#gB)"/>
<circle cx="212.55" cy="1523.5" r="5.9" fill="url(#gB)"/>
<circle cx="229.47" cy="1525.9" r="5.9" fill="url(#gB)"/>
<circle cx="246.40" cy="1532.4" r="5.9" fill="url(#gB)"/>
<circle cx="263.32" cy="1526.9" r="5.9" fill="url(#gB)"/>
<circle cx="280.25" cy="1533.2" r="5.9" fill="url(#gB)"/>
<circle cx="297.17" cy="1542.3" r="5.9" fill="url(#gB)"/>
<circle cx="314.10" cy="1543.3" r="5.9" fill="url(#gB)"/>
<circle cx="331.02" cy="1549.3" r="5.9" fill="url(#gB)"/>
<circle cx="347.95" cy="1545.7" r="5.9" fill="url(#gB)"/>
<circle cx="364.88" cy="1543.3" r="5.9" fill="url(#gB)"/>
<circle cx="381.80" cy="1546.4" r="5.9" fill="url(#gB)"/>
<circle cx="398.72" cy="1552.4" r="5.9" fill="url(#gB)"/>
<circle cx="415.65" cy="1556.1" r="5.9" fill="url(#gB)"/>
<circle cx="432.57" cy="1536.0" r="5.9" fill="url(#gB)"/>
<circle cx="449.50" cy="1540.4" r="5.9" fill="url(#gB)"/>
<circle cx="466.42" cy="1537.5" r="5.9" fill="url(#gB)"/>
<circle cx="483.35" cy="1532.4" r="5.9" fill="url(#gB)"/>
<circle cx="500.27" cy="1527.9" r="5.9" fill="url(#gB)"/>
<circle cx="517.20" cy="1511.8" r="5.9" fill="url(#gB)"/>
<circle cx="534.12" cy="1510.7" r="5.9" fill="url(#gB)"/>
<circle cx="551.05" cy="1500.4" r="5.9" fill="url(#gB)"/>
<circle cx="567.97" cy="1480.5" r="5.9" fill="url(#gB)"/>
<circle cx="584.90" cy="1465.6" r="5.9" fill="url(#gB)"/>
<circle cx="601.83" cy="1451.6" r="5.9" fill="url(#gB)"/>
<circle cx="618.75" cy="1428.6" r="5.9" fill="url(#gB)"/>
<circle cx="635.67" cy="1391.7" r="5.9" fill="url(#gB)"/>
<circle cx="652.60" cy="1382.1" r="5.9" fill="url(#gB)"/>
<circle cx="669.52" cy="1351.2" r="5.9" fill="url(#gB)"/>
<circle cx="686.45" cy="1314.5" r="5.9" fill="url(#gB)"/>
<circle cx="703.38" cy="1281.2" r="5.9" fill="url(#gB)"/>
<path d="M127.92,1535.50V1558.80M123.33,1535.50h9.2M123.33,1558.80h9.2M144.85,1538.40V1561.20M140.25,1538.40h9.2M140.25,1561.20h9.2M161.78,1552.30V1570.30M157.18,1552.30h9.2M157.18,1570.30h9.2M178.70,1556.40V1572.70M174.10,1556.40h9.2M174.10,1572.70h9.2M195.62,1555.20V1572.00M191.03,1555.20h9.2M191.03,1572.00h9.2M212.55,1570.80V1581.60M207.95,1570.80h9.2M207.95,1581.60h9.2M229.47,1572.50V1583.50M224.88,1572.50h9.2M224.88,1583.50h9.2M246.40,1582.50V1589.30M241.80,1582.50h9.2M241.80,1589.30h9.2M263.32,1584.20V1591.00M258.72,1584.20h9.2M258.72,1591.00h9.2M280.25,1578.00V1584.80M275.65,1578.00h9.2M275.65,1584.80h9.2M297.17,1583.30V1590.10M292.57,1583.30h9.2M292.57,1590.10h9.2M314.10,1583.10V1589.90M309.50,1583.10h9.2M309.50,1589.90h9.2M331.02,1583.80V1590.60M326.42,1583.80h9.2M326.42,1590.60h9.2M347.95,1568.70V1581.20M343.35,1568.70h9.2M343.35,1581.20h9.2M364.88,1581.40V1588.20M360.27,1581.40h9.2M360.27,1588.20h9.2M381.80,1572.80V1584.10M377.20,1572.80h9.2M377.20,1584.10h9.2M398.72,1566.30V1579.30M394.12,1566.30h9.2M394.12,1579.30h9.2M415.65,1564.40V1578.10M411.05,1564.40h9.2M411.05,1578.10h9.2M432.57,1531.80V1556.10M427.97,1531.80h9.2M427.97,1556.10h9.2M449.50,1532.40V1556.90M444.90,1532.40h9.2M444.90,1556.90h9.2M466.42,1523.60V1551.20M461.82,1523.60h9.2M461.82,1551.20h9.2M483.35,1513.30V1544.40M478.75,1513.30h9.2M478.75,1544.40h9.2M500.27,1486.50V1525.60M495.67,1486.50h9.2M495.67,1525.60h9.2M517.20,1478.60V1521.50M512.60,1478.60h9.2M512.60,1521.50h9.2M534.12,1463.40V1511.20M529.52,1463.40h9.2M529.52,1511.20h9.2M551.05,1439.70V1495.60M546.45,1439.70h9.2M546.45,1495.60h9.2M567.97,1406.80V1473.30M563.37,1406.80h9.2M563.37,1473.30h9.2M584.90,1382.30V1457.30M580.30,1382.30h9.2M580.30,1457.30h9.2M601.83,1355.30V1439.20M597.23,1355.30h9.2M597.23,1439.20h9.2M618.75,1315.20V1412.40M614.15,1315.20h9.2M614.15,1412.40h9.2M635.67,1285.20V1392.80M631.07,1285.20h9.2M631.07,1392.80h9.2M652.60,1254.40V1371.90M648.00,1254.40h9.2M648.00,1371.90h9.2M669.52,1227.30V1353.50M664.92,1227.30h9.2M664.92,1353.50h9.2M686.45,1213.20V1344.40M681.85,1213.20h9.2M681.85,1344.40h9.2M703.38,1182.40V1323.60M698.77,1182.40h9.2M698.77,1323.60h9.2" stroke="#1cc286" stroke-width="1.1" fill="none"/>
<circle cx="127.92" cy="1546.8" r="5.9" fill="url(#gN)"/>
<circle cx="144.85" cy="1549.9" r="5.9" fill="url(#gN)"/>
<circle cx="161.78" cy="1561.2" r="5.9" fill="url(#gN)"/>
<circle cx="178.70" cy="1564.3" r="5.9" fill="url(#gN)"/>
<circle cx="195.62" cy="1563.6" r="5.9" fill="url(#gN)"/>
<circle cx="212.55" cy="1576.3" r="5.9" fill="url(#gN)"/>
<circle cx="229.47" cy="1578" r="5.9" fill="url(#gN)"/>
<circle cx="246.40" cy="1585.9" r="5.9" fill="url(#gN)"/>
<circle cx="263.32" cy="1587.6" r="5.9" fill="url(#gN)"/>
<circle cx="280.25" cy="1581.4" r="5.9" fill="url(#gN)"/>
<circle cx="297.17" cy="1586.7" r="5.9" fill="url(#gN)"/>
<circle cx="314.10" cy="1586.5" r="5.9" fill="url(#gN)"/>
<circle cx="331.02" cy="1587.2" r="5.9" fill="url(#gN)"/>
<circle cx="347.95" cy="1574.7" r="5.9" fill="url(#gN)"/>
<circle cx="364.88" cy="1584.8" r="5.9" fill="url(#gN)"/>
<circle cx="381.80" cy="1578.1" r="5.9" fill="url(#gN)"/>
<circle cx="398.72" cy="1572.3" r="5.9" fill="url(#gN)"/>
<circle cx="415.65" cy="1571.2" r="5.9" fill="url(#gN)"/>
<circle cx="432.57" cy="1543.9" r="5.9" fill="url(#gN)"/>
<circle cx="449.50" cy="1544.5" r="5.9" fill="url(#gN)"/>
<circle cx="466.42" cy="1536.9" r="5.9" fill="url(#gN)"/>
<circle cx="483.35" cy="1528.6" r="5.9" fill="url(#gN)"/>
<circle cx="500.27" cy="1506.3" r="5.9" fill="url(#gN)"/>
<circle cx="517.20" cy="1499.9" r="5.9" fill="url(#gN)"/>
<circle cx="534.12" cy="1487.2" r="5.9" fill="url(#gN)"/>
<circle cx="551.05" cy="1467.5" r="5.9" fill="url(#gN)"/>
<circle cx="567.97" cy="1439.9" r="5.9" fill="url(#gN)"/>
<circle cx="584.90" cy="1419.7" r="5.9" fill="url(#gN)"/>
<circle cx="601.83" cy="1397.3" r="5.9" fill="url(#gN)"/>
<circle cx="618.75" cy="1363.8" r="5.9" fill="url(#gN)"/>
<circle cx="635.67" cy="1339" r="5.9" fill="url(#gN)"/>
<circle cx="652.60" cy="1313" r="5.9" fill="url(#gN)"/>
<circle cx="669.52" cy="1290.4" r="5.9" fill="url(#gN)"/>
<circle cx="686.45" cy="1278.8" r="5.9" fill="url(#gN)"/>
<circle cx="703.38" cy="1252.9" r="5.9" fill="url(#gN)"/>
<circle cx="257.9" cy="1155.4" r="6" fill="url(#gG)"/>
<circle cx="257.9" cy="1200.9" r="6" fill="url(#gB)"/>
<circle cx="257.9" cy="1248.7" r="6" fill="url(#gN)"/>
<text x="296.6" y="1163.8" font-size="31.5" fill="#000" textLength="159.5" lengthAdjust="spacingAndGlyphs"><tspan dy="0">PEA</tspan><tspan font-size="22" dy="9.6">2</tspan><tspan dy="-9.6">PbBr</tspan><tspan font-size="22" dy="9.6">4</tspan></text>
<text x="296.6" y="1210.3" font-size="31.5" fill="#000" textLength="209.5" lengthAdjust="spacingAndGlyphs"><tspan dy="0">PEABZAPbBr</tspan><tspan font-size="22" dy="9.6">4</tspan></text>
<text x="296.6" y="1256.9" font-size="31.5" fill="#000" textLength="158.5" lengthAdjust="spacingAndGlyphs"><tspan dy="0">BZA</tspan><tspan font-size="22" dy="9.6">2</tspan><tspan dy="-9.6">PbBr</tspan><tspan font-size="22" dy="9.6">4</tspan></text>
</g>
</svg></body></html>
